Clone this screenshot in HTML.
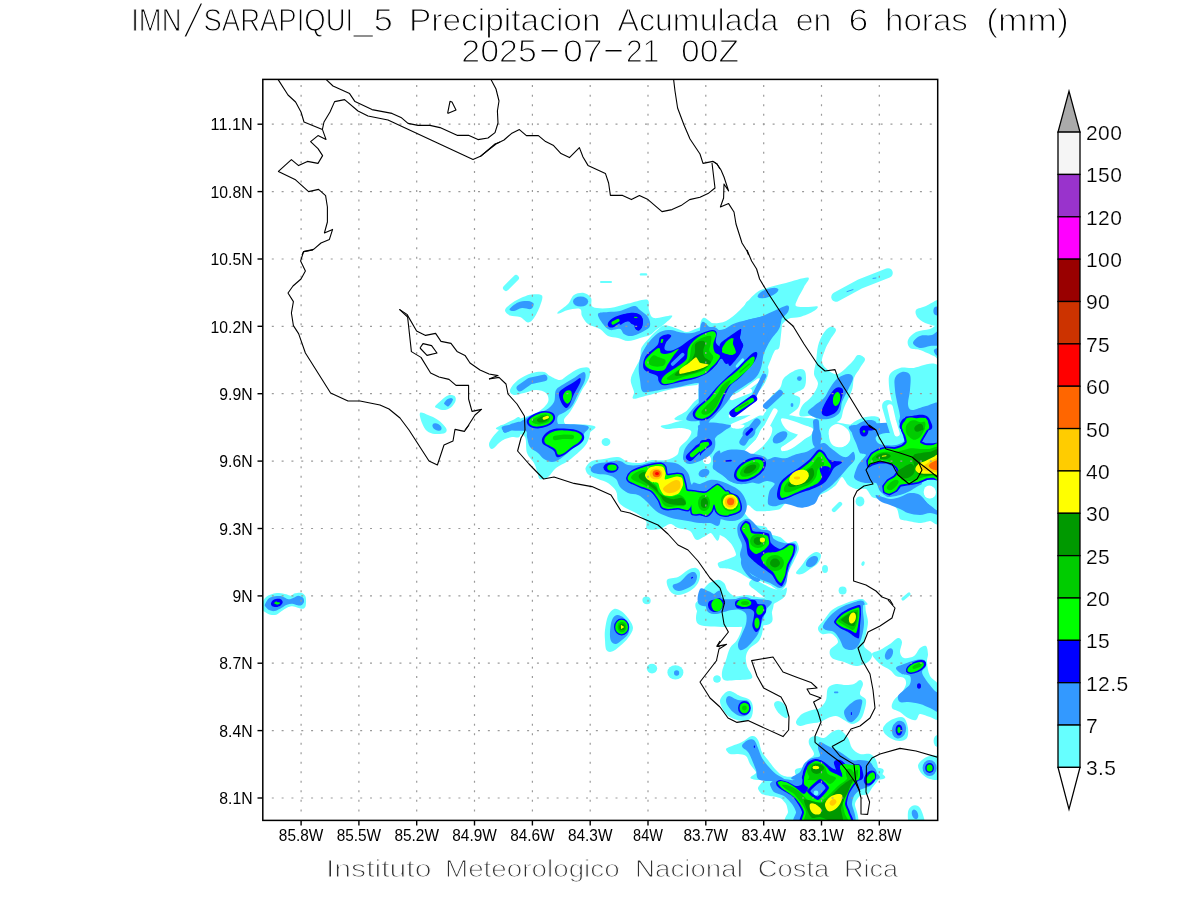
<!DOCTYPE html>
<html lang="es"><head><meta charset="utf-8"><title>IMN/SARAPIQUI_5 Precipitacion Acumulada en 6 horas (mm)</title>
<style>html,body{margin:0;padding:0;background:#fff}body{width:1200px;height:900px;overflow:hidden}svg{display:block}text{font-family:"Liberation Sans",sans-serif;fill:#000}svg{will-change:transform}.th1{stroke:#fff;stroke-width:1.1px}.th2{stroke:#fff;stroke-width:.2px}.th3{stroke:#fff;stroke-width:.95px}.t1{font-size:31px}.t0{font-size:32px}.t0.sl{font-size:50px;stroke-width:2.9px}.ax{font-size:16.5px}.cb{font-size:21px;letter-spacing:.4px}.ft{font-size:24.4px;fill:#303030}</style></head><body>
<svg width="1200" height="900" viewBox="0 0 1200 900">
<rect width="1200" height="900" fill="#fff"/>
<defs><clipPath id="fr"><rect x="262.8" y="79.4" width="674.9" height="741.0"/></clipPath><clipPath id="c119"><rect x="700" y="427" width="245" height="183"/></clipPath></defs>
<g clip-path="url(#fr)">
<path d="M633.3,398.7C631.0,398.1 634.4,395.1 634.0,392.0C633.6,388.9 630.6,383.8 630.7,380.0C630.8,376.2 633.1,372.9 634.7,369.3C636.2,365.8 638.9,362.2 640.0,358.7C641.1,355.1 639.9,351.3 641.3,348.0C642.8,344.7 645.8,341.9 648.7,338.7C651.6,335.4 655.9,330.9 658.7,328.7C661.4,326.4 662.2,325.3 665.3,325.3C668.4,325.3 673.8,327.6 677.3,328.7C680.9,329.8 683.8,331.9 686.7,332.0C689.6,332.1 691.3,330.6 694.7,329.3C698.0,328.1 703.6,325.7 706.7,324.7C709.8,323.7 710.9,323.2 713.3,323.3C715.8,323.4 718.7,325.6 721.3,325.3C724.0,325.1 726.7,324.0 729.3,322.0C732.0,320.0 734.9,315.9 737.3,313.3C739.8,310.8 741.8,308.9 744.0,306.7C746.2,304.4 744.7,301.1 750.7,300.0C756.7,298.9 775.1,292.7 780.0,300.0C784.9,307.3 780.9,335.6 780.0,344.0C779.1,352.4 776.2,348.0 774.7,350.7C773.1,353.3 771.8,357.3 770.7,360.0C769.6,362.7 768.9,364.2 768.0,366.7C767.1,369.1 766.4,372.0 765.3,374.7C764.2,377.3 763.3,380.0 761.3,382.7C759.3,385.3 756.9,387.6 753.3,390.7C749.8,393.8 744.0,397.6 740.0,401.3C736.0,405.1 732.0,410.2 729.3,413.3C726.7,416.4 732.9,418.9 724.0,420.0C715.1,421.1 682.2,421.6 676.0,420.0C669.8,418.4 683.6,413.8 686.7,410.7C689.8,407.6 691.6,404.2 694.7,401.3C697.8,398.4 703.0,396.0 705.3,393.3C707.7,390.7 710.4,386.7 708.7,385.3C706.9,384.0 700.6,384.8 694.7,385.3C688.8,385.9 681.1,387.0 673.3,388.7C665.6,390.3 654.7,393.7 648.0,395.3C641.3,397.0 635.7,399.2 633.3,398.7Z" fill="#66ffff"/>
<path d="M506.0,288.0L516.0,278.0" fill="none" stroke="#66ffff" stroke-width="6.0" stroke-linecap="round" stroke-linejoin="round"/>
<path d="M505.0,310.0C505.3,307.9 509.0,305.2 512.0,303.0C515.0,300.8 519.7,298.4 523.0,297.0C526.3,295.6 528.8,294.6 532.0,294.4C535.2,294.2 540.7,293.7 542.0,295.6C543.3,297.5 541.3,302.3 540.0,306.0C538.7,309.7 536.0,315.3 534.0,318.0C532.0,320.7 530.3,322.6 528.0,322.4C525.7,322.2 523.0,318.1 520.0,317.0C517.0,315.9 512.5,316.8 510.0,315.6C507.5,314.4 504.7,312.1 505.0,310.0Z" fill="#66ffff"/>
<path d="M601.0,282.0L611.0,282.0" fill="none" stroke="#66ffff" stroke-width="2.0" stroke-linecap="round" stroke-linejoin="round"/>
<path d="M641.0,274.4L646.0,274.4" fill="none" stroke="#66ffff" stroke-width="2.4" stroke-linecap="round" stroke-linejoin="round"/>
<path d="M558.0,312.0C559.5,310.4 565.3,306.8 568.0,304.0C570.7,301.2 571.3,296.8 574.0,295.0C576.7,293.2 581.2,292.5 584.0,293.0C586.8,293.5 589.5,295.7 591.0,298.0C592.5,300.3 589.8,305.3 593.0,307.0C596.2,308.7 604.2,308.6 610.0,308.0C615.8,307.4 621.8,305.0 628.0,303.6C634.2,302.2 643.5,298.5 647.0,299.6C650.5,300.7 647.8,306.9 649.0,310.0C650.2,313.1 650.2,317.1 654.0,318.0C657.8,318.9 670.2,314.7 672.0,315.6C673.8,316.5 667.7,321.2 665.0,323.6C662.3,326.0 658.5,328.1 656.0,330.0C653.5,331.9 652.7,333.7 650.0,335.0C647.3,336.3 643.7,337.0 640.0,338.0C636.3,339.0 631.7,341.0 628.0,341.0C624.3,341.0 621.3,338.8 618.0,338.0C614.7,337.2 611.0,337.5 608.0,336.0C605.0,334.5 603.3,331.0 600.0,329.0C596.7,327.0 591.0,326.2 588.0,324.0C585.0,321.8 583.3,318.5 582.0,316.0C580.7,313.5 582.3,310.0 580.0,309.0C577.7,308.0 571.5,309.2 568.0,310.0C564.5,310.8 560.7,313.3 559.0,313.6C557.3,313.9 556.5,313.6 558.0,312.0Z" fill="#66ffff"/>
<path d="M510.0,390.0C510.7,387.5 514.3,382.8 518.0,380.0C521.7,377.2 527.7,374.3 532.0,373.0C536.3,371.7 541.0,371.5 544.0,372.0C547.0,372.5 547.3,374.7 550.0,376.0C552.7,377.3 557.0,380.2 560.0,380.0C563.0,379.8 565.0,376.8 568.0,375.0C571.0,373.2 574.5,370.2 578.0,369.0C581.5,367.8 587.2,366.5 589.0,368.0C590.8,369.5 590.2,374.3 589.0,378.0C587.8,381.7 584.2,386.0 582.0,390.0C579.8,394.0 578.0,398.3 576.0,402.0C574.0,405.7 572.0,409.0 570.0,412.0C568.0,415.0 564.3,417.7 564.0,420.0C563.7,422.3 564.7,424.3 568.0,426.0C571.3,427.7 595.3,429.3 584.0,430.0C572.7,430.7 512.3,431.3 500.0,430.0C487.7,428.7 506.3,424.0 510.0,422.0C513.7,420.0 517.3,419.7 522.0,418.0C526.7,416.3 533.7,414.7 538.0,412.0C542.3,409.3 546.7,405.2 548.0,402.0C549.3,398.8 548.0,395.0 546.0,393.0C544.0,391.0 539.7,390.0 536.0,390.0C532.3,390.0 527.7,392.2 524.0,393.0C520.3,393.8 516.3,395.5 514.0,395.0C511.7,394.5 509.3,392.5 510.0,390.0Z" fill="#66ffff"/>
<path d="M700.0,326.0C702.3,308.3 709.7,324.4 714.0,323.6C718.3,322.8 721.7,323.3 726.0,321.0C730.3,318.7 735.0,314.7 740.0,310.0C745.0,305.3 751.0,296.8 756.0,293.0C761.0,289.2 765.0,288.7 770.0,287.0C775.0,285.3 779.7,284.6 786.0,283.0C792.3,281.4 805.0,276.9 808.0,277.6C811.0,278.3 805.7,283.4 804.0,287.0C802.3,290.6 798.9,295.8 797.6,299.0C796.3,302.2 794.6,304.7 796.0,306.0C797.4,307.3 802.4,306.9 806.0,307.0C809.6,307.1 816.4,305.6 817.6,306.4C818.8,307.2 815.9,309.8 813.0,311.6C810.1,313.4 804.2,315.8 800.0,317.0C795.8,318.2 791.5,317.2 788.0,319.0C784.5,320.8 782.0,324.8 779.0,328.0C776.0,331.2 772.3,334.0 770.0,338.0C767.7,342.0 766.7,348.0 765.0,352.0C763.3,356.0 759.5,359.3 760.0,362.0C760.5,364.7 766.8,365.3 768.0,368.0C769.2,370.7 768.3,374.3 767.0,378.0C765.7,381.7 762.8,387.0 760.0,390.0C757.2,393.0 753.3,393.3 750.0,396.0C746.7,398.7 744.3,402.3 740.0,406.0C735.7,409.7 728.7,414.7 724.0,418.0C719.3,421.3 716.0,424.0 712.0,426.0C708.0,428.0 702.0,446.7 700.0,430.0C698.0,413.3 697.7,343.7 700.0,326.0Z" fill="#66ffff"/>
<path d="M836.0,297.0L860.0,284.0L888.0,273.0" fill="none" stroke="#66ffff" stroke-width="9.6" stroke-linecap="round" stroke-linejoin="round"/>
<path d="M916.0,310.0C917.3,308.0 922.5,307.7 926.0,306.0C929.5,304.3 934.7,301.0 937.0,300.0C939.3,299.0 939.5,296.0 940.0,300.0C940.5,304.0 942.0,320.0 940.0,324.0C938.0,328.0 931.7,325.0 928.0,324.0C924.3,323.0 920.0,320.3 918.0,318.0C916.0,315.7 914.7,312.0 916.0,310.0Z" fill="#66ffff"/>
<path d="M908.0,340.0C909.0,337.3 912.3,333.8 916.0,332.0C919.7,330.2 926.0,330.0 930.0,329.0C934.0,328.0 938.3,321.2 940.0,326.0C941.7,330.8 941.0,353.0 940.0,358.0C939.0,363.0 937.3,357.3 934.0,356.0C930.7,354.7 924.0,351.3 920.0,350.0C916.0,348.7 912.0,349.7 910.0,348.0C908.0,346.3 907.0,342.7 908.0,340.0Z" fill="#66ffff"/>
<path d="M830.0,327.0C832.2,326.3 836.0,327.8 836.0,330.0C836.0,332.2 831.8,336.7 830.0,340.0C828.2,343.3 826.3,346.3 825.0,350.0C823.7,353.7 821.5,358.7 822.0,362.0C822.5,365.3 825.3,368.0 828.0,370.0C830.7,372.0 834.0,375.3 838.0,374.0C842.0,372.7 848.7,365.2 852.0,362.0C855.3,358.8 855.8,355.5 858.0,355.0C860.2,354.5 864.7,356.8 865.0,359.0C865.3,361.2 861.8,364.8 860.0,368.0C858.2,371.2 855.3,374.3 854.0,378.0C852.7,381.7 853.7,385.0 852.0,390.0C850.3,395.0 846.0,403.0 844.0,408.0C842.0,413.0 842.7,417.3 840.0,420.0C837.3,422.7 831.3,423.7 828.0,424.0C824.7,424.3 822.7,423.3 820.0,422.0C817.3,420.7 815.3,417.0 812.0,416.0C808.7,415.0 801.7,417.7 800.0,416.0C798.3,414.3 800.0,409.3 802.0,406.0C804.0,402.7 809.3,399.7 812.0,396.0C814.7,392.3 817.7,387.7 818.0,384.0C818.3,380.3 814.3,377.7 814.0,374.0C813.7,370.3 815.3,366.7 816.0,362.0C816.7,357.3 816.8,350.7 818.0,346.0C819.2,341.3 821.0,337.2 823.0,334.0C825.0,330.8 827.8,327.7 830.0,327.0Z" fill="#66ffff"/>
<path d="M784.0,378.0C786.7,375.0 792.7,371.3 796.0,370.0C799.3,368.7 802.3,368.7 804.0,370.0C805.7,371.3 806.0,375.0 806.0,378.0C806.0,381.0 806.0,385.3 804.0,388.0C802.0,390.7 794.7,392.3 794.0,394.0C793.3,395.7 799.3,395.7 800.0,398.0C800.7,400.3 800.0,405.0 798.0,408.0C796.0,411.0 791.0,413.0 788.0,416.0C785.0,419.0 783.3,423.7 780.0,426.0C776.7,428.3 771.3,430.3 768.0,430.0C764.7,429.7 760.3,427.3 760.0,424.0C759.7,420.7 764.3,414.3 766.0,410.0C767.7,405.7 767.7,401.7 770.0,398.0C772.3,394.3 777.7,391.3 780.0,388.0C782.3,384.7 781.3,381.0 784.0,378.0Z" fill="#66ffff"/>
<path d="M732.0,430.0C723.7,428.7 740.0,423.7 744.0,422.0C748.0,420.3 752.3,419.7 756.0,420.0C759.7,420.3 762.0,423.0 766.0,424.0C770.0,425.0 775.3,425.0 780.0,426.0C784.7,427.0 802.0,429.3 794.0,430.0C786.0,430.7 740.3,431.3 732.0,430.0Z" fill="#66ffff"/>
<path d="M804.0,430.0C800.7,428.7 805.3,423.7 808.0,422.0C810.7,420.3 816.7,419.3 820.0,420.0C823.3,420.7 826.7,424.3 828.0,426.0C829.3,427.7 832.0,429.3 828.0,430.0C824.0,430.7 807.3,431.3 804.0,430.0Z" fill="#66ffff"/>
<path d="M890.0,374.0C891.8,371.0 896.3,369.0 900.0,368.0C903.7,367.0 905.3,368.0 912.0,368.0C918.7,368.0 935.3,357.7 940.0,368.0C944.7,378.3 948.0,419.7 940.0,430.0C932.0,440.3 899.3,432.0 892.0,430.0C884.7,428.0 896.0,422.7 896.0,418.0C896.0,413.3 893.2,407.3 892.0,402.0C890.8,396.7 889.3,390.7 889.0,386.0C888.7,381.3 888.2,377.0 890.0,374.0Z" fill="#66ffff"/>
<path d="M848.0,430.0C844.3,428.7 851.0,424.2 854.0,422.0C857.0,419.8 862.0,417.8 866.0,417.0C870.0,416.2 875.7,415.8 878.0,417.0C880.3,418.2 880.3,421.8 880.0,424.0C879.7,426.2 881.3,429.0 876.0,430.0C870.7,431.0 851.7,431.3 848.0,430.0Z" fill="#66ffff"/>
<path d="M420.0,413.0C421.0,411.7 425.0,413.8 428.0,415.0C431.0,416.2 435.0,417.8 438.0,420.0C441.0,422.2 444.8,425.8 446.0,428.0C447.2,430.2 446.8,432.0 445.0,433.0C443.2,434.0 438.0,434.3 435.0,434.0C432.0,433.7 429.2,432.8 427.0,431.0C424.8,429.2 423.2,426.0 422.0,423.0C420.8,420.0 419.0,414.3 420.0,413.0Z" fill="#66ffff"/>
<path d="M500.0,437.0C499.2,436.0 502.2,432.7 503.0,431.0C503.8,429.3 504.3,428.0 505.0,427.0C505.7,426.0 493.0,425.3 507.0,425.0C521.0,424.7 575.2,423.7 589.0,425.0C602.8,426.3 590.3,430.0 590.0,433.0C589.7,436.0 588.7,440.0 587.0,443.0C585.3,446.0 583.2,448.0 580.0,451.0C576.8,454.0 572.0,458.2 568.0,461.0C564.0,463.8 559.3,465.3 556.0,468.0C552.7,470.7 550.7,475.2 548.0,477.0C545.3,478.8 541.8,480.0 540.0,479.0C538.2,478.0 538.0,473.7 537.0,471.0C536.0,468.3 535.7,466.0 534.0,463.0C532.3,460.0 528.5,457.3 527.0,453.0C525.5,448.7 526.8,440.2 525.0,437.0C523.2,433.8 518.8,434.0 516.0,434.0C513.2,434.0 510.7,436.5 508.0,437.0C505.3,437.5 500.8,438.0 500.0,437.0Z" fill="#66ffff"/>
<ellipse cx="606.0" cy="442.0" rx="4.4" ry="4.0" transform="rotate(0 606.0 442.0)" fill="#66ffff"/>
<path d="M586.0,467.0C587.0,465.3 589.0,462.3 592.0,461.0C595.0,459.7 599.7,459.7 604.0,459.0C608.3,458.3 614.0,456.5 618.0,457.0C622.0,457.5 624.3,461.0 628.0,462.0C631.7,463.0 636.0,463.3 640.0,463.0C644.0,462.7 647.7,460.5 652.0,460.0C656.3,459.5 661.8,460.8 666.0,460.0C670.2,459.2 674.7,457.2 677.0,455.0C679.3,452.8 678.2,449.7 680.0,447.0C681.8,444.3 686.2,441.7 688.0,439.0C689.8,436.3 692.3,432.8 691.0,431.0C689.7,429.2 684.2,428.3 680.0,428.0C675.8,427.7 668.5,429.5 666.0,429.0C663.5,428.5 656.0,425.7 665.0,425.0C674.0,424.3 710.8,407.0 720.0,425.0C729.2,443.0 721.7,515.0 720.0,533.0C718.3,551.0 713.8,531.8 710.0,533.0C706.2,534.2 700.3,540.3 697.0,540.0C693.7,539.7 693.2,533.0 690.0,531.0C686.8,529.0 681.3,529.2 678.0,528.0C674.7,526.8 673.0,523.8 670.0,524.0C667.0,524.2 663.8,528.2 660.0,529.0C656.2,529.8 649.3,530.3 647.0,529.0C644.7,527.7 647.8,523.7 646.0,521.0C644.2,518.3 639.7,515.3 636.0,513.0C632.3,510.7 627.0,509.0 624.0,507.0C621.0,505.0 619.3,503.7 618.0,501.0C616.7,498.3 617.7,494.0 616.0,491.0C614.3,488.0 611.0,485.0 608.0,483.0C605.0,481.0 601.2,480.3 598.0,479.0C594.8,477.7 591.0,476.3 589.0,475.0C587.0,473.7 586.5,472.3 586.0,471.0C585.5,469.7 585.0,468.7 586.0,467.0Z" fill="#66ffff"/>
<path d="M667.0,580.0C668.3,577.7 674.5,578.7 678.0,577.0C681.5,575.3 685.0,571.5 688.0,570.0C691.0,568.5 694.0,567.5 696.0,568.0C698.0,568.5 699.7,570.5 700.0,573.0C700.3,575.5 699.7,580.0 698.0,583.0C696.3,586.0 693.3,589.0 690.0,591.0C686.7,593.0 681.3,595.0 678.0,595.0C674.7,595.0 671.8,593.5 670.0,591.0C668.2,588.5 665.7,582.3 667.0,580.0Z" fill="#66ffff"/>
<ellipse cx="646.4" cy="600.0" rx="4.0" ry="3.6" transform="rotate(0 646.4 600.0)" fill="#66ffff"/>
<path d="M700.0,605.0C697.0,603.7 700.3,599.7 702.0,597.0C703.7,594.3 707.0,591.3 710.0,589.0C713.0,586.7 718.3,580.3 720.0,583.0C721.7,585.7 723.3,601.3 720.0,605.0C716.7,608.7 703.0,606.3 700.0,605.0Z" fill="#66ffff"/>
<path d="M700.0,425.0C728.0,412.6 912.0,414.0 940.0,425.0C968.0,436.0 941.2,507.8 940.0,519.0C938.8,530.2 932.3,520.5 930.0,521.0C927.7,521.5 922.6,523.0 920.0,523.0C917.4,523.0 910.3,521.5 908.0,521.0C905.7,520.5 901.3,520.4 900.0,519.0C898.7,517.6 898.4,511.1 897.0,509.0C895.6,506.9 890.0,502.2 888.0,501.0C886.0,499.8 881.9,499.5 880.0,499.0C878.1,498.5 873.6,498.2 872.0,497.0C870.4,495.8 867.9,489.9 866.0,489.0C864.1,488.1 858.1,489.5 856.0,489.0C853.9,488.5 849.6,486.4 848.0,485.0C846.4,483.6 843.4,477.0 842.0,477.0C840.6,477.0 837.6,483.4 836.0,485.0C834.4,486.6 829.9,489.8 828.0,491.0C826.1,492.2 821.9,493.6 820.0,495.0C818.1,496.4 814.3,501.8 812.0,503.0C809.7,504.2 802.8,505.2 800.0,505.0C797.2,504.8 790.3,500.5 788.0,501.0C785.7,501.5 782.3,507.8 780.0,509.0C777.7,510.2 770.8,510.8 768.0,511.0C765.2,511.2 758.3,511.7 756.0,511.0C753.7,510.3 749.3,504.8 748.0,505.0C746.7,505.2 744.8,511.4 745.0,513.0C745.2,514.6 748.7,517.6 750.0,519.0C751.3,520.4 754.1,524.1 756.0,525.0C757.9,525.9 764.4,526.0 766.0,527.0C767.6,528.0 768.4,532.8 770.0,534.0C771.6,535.2 777.9,536.0 780.0,537.0C782.1,538.0 786.1,542.5 788.0,543.0C789.9,543.5 794.7,540.3 796.0,541.0C797.3,541.7 799.2,546.7 799.0,549.0C798.8,551.3 795.3,558.2 794.0,561.0C792.7,563.8 788.9,570.2 788.0,573.0C787.1,575.8 786.9,582.9 786.0,585.0C785.1,587.1 781.9,591.0 780.0,591.0C778.1,591.0 772.3,586.2 770.0,585.0C767.7,583.8 762.3,581.7 760.0,581.0C757.7,580.3 752.3,579.9 750.0,579.0C747.7,578.1 742.3,574.2 740.0,573.0C737.7,571.8 732.3,569.6 730.0,569.0C727.7,568.4 721.4,568.7 720.0,568.0C718.6,567.3 717.1,564.0 718.0,563.0C718.9,562.0 725.9,559.9 728.0,559.0C730.1,558.1 735.5,556.6 736.0,555.0C736.5,553.4 733.4,547.1 732.0,545.0C730.6,542.9 726.3,538.5 724.0,537.0C721.7,535.5 714.8,532.7 712.0,532.0C709.2,531.3 701.4,543.5 700.0,531.0C698.6,518.5 672.0,437.4 700.0,425.0Z" fill="#66ffff" clip-path="url(#c119)"/>
<ellipse cx="860.0" cy="501.4" rx="4.4" ry="5.0" transform="rotate(0 860.0 501.4)" fill="#66ffff"/>
<path d="M834.0,510.0L840.0,504.0" fill="none" stroke="#66ffff" stroke-width="4.4" stroke-linecap="round" stroke-linejoin="round"/>
<path d="M796.0,573.0C796.0,571.5 800.0,567.7 802.0,565.0C804.0,562.3 805.7,559.2 808.0,557.0C810.3,554.8 813.8,552.3 816.0,552.0C818.2,551.7 820.7,553.2 821.0,555.0C821.3,556.8 819.8,560.7 818.0,563.0C816.2,565.3 812.7,567.2 810.0,569.0C807.3,570.8 804.3,573.3 802.0,574.0C799.7,574.7 796.0,574.5 796.0,573.0Z" fill="#66ffff"/>
<ellipse cx="825.0" cy="569.0" rx="3.0" ry="4.0" transform="rotate(0 825.0 569.0)" fill="#66ffff"/>
<ellipse cx="842.6" cy="590.4" rx="4.0" ry="4.0" transform="rotate(0 842.6 590.4)" fill="#66ffff"/>
<ellipse cx="863.0" cy="563.6" rx="1.6" ry="2.4" transform="rotate(20 863.0 563.6)" fill="#66ffff"/>
<path d="M903.0,599.0L909.0,594.0" fill="none" stroke="#66ffff" stroke-width="3.2" stroke-linecap="round" stroke-linejoin="round"/>
<path d="M846.0,605.0C844.0,604.3 851.3,601.9 854.0,601.0C856.7,600.1 860.0,599.2 862.0,599.4C864.0,599.6 865.3,601.1 866.0,602.0C866.7,602.9 869.3,604.5 866.0,605.0C862.7,605.5 848.0,605.7 846.0,605.0Z" fill="#66ffff"/>
<path d="M605.0,630.0C605.5,626.0 606.5,619.5 608.0,616.0C609.5,612.5 611.8,609.8 614.0,609.0C616.2,608.2 618.7,609.5 621.0,611.0C623.3,612.5 626.0,615.2 628.0,618.0C630.0,620.8 633.0,624.7 633.0,628.0C633.0,631.3 630.2,635.0 628.0,638.0C625.8,641.0 622.7,643.7 620.0,646.0C617.3,648.3 614.3,650.9 612.0,651.6C609.7,652.3 607.6,651.9 606.4,650.0C605.2,648.1 605.2,643.3 605.0,640.0C604.8,636.7 604.5,634.0 605.0,630.0Z" fill="#66ffff"/>
<ellipse cx="647.0" cy="601.0" rx="3.6" ry="3.2" transform="rotate(0 647.0 601.0)" fill="#66ffff"/>
<ellipse cx="652.0" cy="668.6" rx="5.2" ry="4.8" transform="rotate(0 652.0 668.6)" fill="#66ffff"/>
<ellipse cx="675.4" cy="672.4" rx="8.0" ry="7.2" transform="rotate(0 675.4 672.4)" fill="#66ffff"/>
<ellipse cx="717.0" cy="679.0" rx="3.6" ry="3.6" transform="rotate(0 717.0 679.0)" fill="#66ffff"/>
<path d="M700.0,600.0C711.3,596.7 758.7,598.3 770.0,600.0C781.3,601.7 769.0,606.3 768.0,610.0C767.0,613.7 765.0,618.0 764.0,622.0C763.0,626.0 763.0,630.7 762.0,634.0C761.0,637.3 760.0,639.7 758.0,642.0C756.0,644.3 752.0,645.7 750.0,648.0C748.0,650.3 746.5,653.0 746.0,656.0C745.5,659.0 746.0,662.3 747.0,666.0C748.0,669.7 753.8,675.7 752.0,678.0C750.2,680.3 740.7,679.7 736.0,680.0C731.3,680.3 726.3,681.3 724.0,680.0C721.7,678.7 721.7,675.3 722.0,672.0C722.3,668.7 724.7,664.0 726.0,660.0C727.3,656.0 728.2,651.3 730.0,648.0C731.8,644.7 735.0,643.3 737.0,640.0C739.0,636.7 741.5,631.3 742.0,628.0C742.5,624.7 742.0,621.7 740.0,620.0C738.0,618.3 733.3,618.0 730.0,618.0C726.7,618.0 723.0,619.3 720.0,620.0C717.0,620.7 714.3,621.0 712.0,622.0C709.7,623.0 707.7,626.3 706.0,626.0C704.3,625.7 703.0,624.3 702.0,620.0C701.0,615.7 688.7,603.3 700.0,600.0Z" fill="#66ffff"/>
<ellipse cx="717.0" cy="679.0" rx="3.6" ry="3.6" transform="rotate(0 717.0 679.0)" fill="#66ffff"/>
<path d="M720.0,702.0C719.7,698.7 722.3,695.8 724.0,694.0C725.7,692.2 727.3,690.7 730.0,691.0C732.7,691.3 736.7,694.5 740.0,696.0C743.3,697.5 747.8,698.0 750.0,700.0C752.2,702.0 752.8,705.0 753.0,708.0C753.2,711.0 752.5,715.8 751.0,718.0C749.5,720.2 746.8,720.8 744.0,721.0C741.2,721.2 737.0,720.2 734.0,719.0C731.0,717.8 728.3,716.8 726.0,714.0C723.7,711.2 720.3,705.3 720.0,702.0Z" fill="#66ffff"/>
<path d="M774.0,704.0C774.2,702.3 776.3,701.0 778.0,701.0C779.7,701.0 782.3,702.2 784.0,704.0C785.7,705.8 787.5,709.7 788.0,712.0C788.5,714.3 788.0,717.3 787.0,718.0C786.0,718.7 783.7,717.2 782.0,716.0C780.3,714.8 778.3,713.0 777.0,711.0C775.7,709.0 773.8,705.7 774.0,704.0Z" fill="#66ffff"/>
<path d="M818.0,628.0C818.3,625.7 821.7,623.0 824.0,620.0C826.3,617.0 828.7,612.7 832.0,610.0C835.3,607.3 840.0,605.7 844.0,604.0C848.0,602.3 852.7,600.7 856.0,600.0C859.3,599.3 862.3,598.0 864.0,600.0C865.7,602.0 865.3,608.3 866.0,612.0C866.7,615.7 868.0,618.3 868.0,622.0C868.0,625.7 866.7,630.0 866.0,634.0C865.3,638.0 863.0,642.7 864.0,646.0C865.0,649.3 871.3,651.3 872.0,654.0C872.7,656.7 870.7,660.0 868.0,662.0C865.3,664.0 860.0,666.0 856.0,666.0C852.0,666.0 848.0,663.3 844.0,662.0C840.0,660.7 834.3,660.0 832.0,658.0C829.7,656.0 829.0,652.7 830.0,650.0C831.0,647.3 837.7,644.7 838.0,642.0C838.3,639.3 834.7,635.3 832.0,634.0C829.3,632.7 824.3,635.0 822.0,634.0C819.7,633.0 817.7,630.3 818.0,628.0Z" fill="#66ffff"/>
<path d="M872.0,654.0C872.0,651.7 877.0,651.7 880.0,650.0C883.0,648.3 887.0,646.0 890.0,644.0C893.0,642.0 896.0,638.3 898.0,638.0C900.0,637.7 901.7,639.7 902.0,642.0C902.3,644.3 899.7,649.3 900.0,652.0C900.3,654.7 901.7,657.3 904.0,658.0C906.3,658.7 911.3,657.7 914.0,656.0C916.7,654.3 918.0,649.7 920.0,648.0C922.0,646.3 924.7,645.0 926.0,646.0C927.3,647.0 927.8,651.3 928.0,654.0C928.2,656.7 926.7,658.3 927.0,662.0C927.3,665.7 927.8,671.7 930.0,676.0C932.2,680.3 938.3,681.0 940.0,688.0C941.7,695.0 941.7,713.2 940.0,718.0C938.3,722.8 933.3,717.7 930.0,717.0C926.7,716.3 922.3,713.5 920.0,714.0C917.7,714.5 918.0,719.3 916.0,720.0C914.0,720.7 910.7,719.3 908.0,718.0C905.3,716.7 902.7,713.7 900.0,712.0C897.3,710.3 893.0,710.0 892.0,708.0C891.0,706.0 892.3,702.7 894.0,700.0C895.7,697.3 900.0,694.7 902.0,692.0C904.0,689.3 905.7,686.3 906.0,684.0C906.3,681.7 905.7,679.3 904.0,678.0C902.3,676.7 898.3,677.3 896.0,676.0C893.7,674.7 892.7,672.0 890.0,670.0C887.3,668.0 883.0,666.7 880.0,664.0C877.0,661.3 872.0,656.3 872.0,654.0Z" fill="#66ffff"/>
<path d="M883.0,728.0C883.5,726.0 885.8,723.7 888.0,722.0C890.2,720.3 893.3,718.7 896.0,718.0C898.7,717.3 902.0,716.3 904.0,718.0C906.0,719.7 907.5,724.7 908.0,728.0C908.5,731.3 908.3,735.8 907.0,738.0C905.7,740.2 902.5,740.8 900.0,741.0C897.5,741.2 894.5,740.2 892.0,739.0C889.5,737.8 886.5,735.8 885.0,734.0C883.5,732.2 882.5,730.0 883.0,728.0Z" fill="#66ffff"/>
<path d="M796.0,722.0C796.3,720.0 799.3,716.0 802.0,714.0C804.7,712.0 809.0,711.0 812.0,710.0C815.0,709.0 817.7,709.7 820.0,708.0C822.3,706.3 824.7,703.3 826.0,700.0C827.3,696.7 826.3,690.7 828.0,688.0C829.7,685.3 833.0,684.5 836.0,684.0C839.0,683.5 843.0,685.0 846.0,685.0C849.0,685.0 851.7,684.8 854.0,684.0C856.3,683.2 858.5,680.0 860.0,680.0C861.5,680.0 863.0,681.7 863.0,684.0C863.0,686.3 859.5,691.3 860.0,694.0C860.5,696.7 865.3,697.0 866.0,700.0C866.7,703.0 865.0,708.7 864.0,712.0C863.0,715.3 862.0,718.0 860.0,720.0C858.0,722.0 854.7,724.0 852.0,724.0C849.3,724.0 846.7,721.3 844.0,720.0C841.3,718.7 838.7,716.3 836.0,716.0C833.3,715.7 830.7,717.0 828.0,718.0C825.3,719.0 823.3,721.0 820.0,722.0C816.7,723.0 811.3,723.3 808.0,724.0C804.7,724.7 802.0,726.3 800.0,726.0C798.0,725.7 795.7,724.0 796.0,722.0Z" fill="#66ffff"/>
<path d="M726.0,749.0C726.3,747.7 729.3,747.2 732.0,746.0C734.7,744.8 738.7,743.7 742.0,742.0C745.3,740.3 749.3,736.3 752.0,736.0C754.7,735.7 756.3,737.3 758.0,740.0C759.7,742.7 760.3,748.7 762.0,752.0C763.7,755.3 765.7,757.0 768.0,760.0C770.3,763.0 773.3,767.3 776.0,770.0C778.7,772.7 780.7,775.0 784.0,776.0C787.3,777.0 793.0,777.3 796.0,776.0C799.0,774.7 800.0,770.7 802.0,768.0C804.0,765.3 806.0,762.3 808.0,760.0C810.0,757.7 813.8,756.7 814.0,754.0C814.2,751.3 809.7,746.7 809.0,744.0C808.3,741.3 808.8,739.3 810.0,738.0C811.2,736.7 813.7,736.0 816.0,736.0C818.3,736.0 821.3,738.7 824.0,738.0C826.7,737.3 829.3,733.3 832.0,732.0C834.7,730.7 837.3,729.0 840.0,730.0C842.7,731.0 846.0,735.0 848.0,738.0C850.0,741.0 850.0,745.3 852.0,748.0C854.0,750.7 857.0,753.0 860.0,754.0C863.0,755.0 867.3,753.0 870.0,754.0C872.7,755.0 874.7,757.3 876.0,760.0C877.3,762.7 878.0,766.7 878.0,770.0C878.0,773.3 895.7,778.3 876.0,780.0C856.3,781.7 780.0,781.3 760.0,780.0C740.0,778.7 757.7,774.7 756.0,772.0C754.3,769.3 751.7,766.7 750.0,764.0C748.3,761.3 748.0,757.7 746.0,756.0C744.0,754.3 740.7,754.3 738.0,754.0C735.3,753.7 732.0,754.8 730.0,754.0C728.0,753.2 725.7,750.3 726.0,749.0Z" fill="#66ffff"/>
<path d="M918.0,766.0C918.0,763.7 920.0,761.7 922.0,760.0C924.0,758.3 927.0,756.3 930.0,756.0C933.0,755.7 938.3,754.3 940.0,758.0C941.7,761.7 941.7,774.5 940.0,778.0C938.3,781.5 933.0,779.7 930.0,779.0C927.0,778.3 924.0,776.2 922.0,774.0C920.0,771.8 918.0,768.3 918.0,766.0Z" fill="#66ffff"/>
<ellipse cx="937.6" cy="741.0" rx="4.0" ry="6.0" transform="rotate(0 937.6 741.0)" fill="#66ffff"/>
<path d="M758.0,788.0C758.2,786.4 762.6,781.6 764.0,780.0C765.4,778.4 768.4,774.7 770.0,774.0C771.6,773.3 776.1,773.5 778.0,774.0C779.9,774.5 783.9,777.6 786.0,778.0C788.1,778.4 794.4,778.2 796.0,777.0C797.6,775.8 790.2,769.0 800.0,768.0C809.8,767.0 870.9,766.6 880.0,768.0C889.1,769.4 878.9,777.7 878.0,780.0C877.1,782.3 873.2,786.4 872.0,788.0C870.8,789.6 869.4,793.1 868.0,794.0C866.6,794.9 861.5,794.8 860.0,796.0C858.5,797.2 855.6,800.7 855.0,804.0C854.4,807.3 862.8,821.7 855.0,824.0C847.2,826.3 795.8,825.4 788.0,824.0C780.2,822.6 788.2,814.3 788.0,812.0C787.8,809.7 786.9,805.6 786.0,804.0C785.1,802.4 781.9,798.9 780.0,798.0C778.1,797.1 772.1,796.5 770.0,796.0C767.9,795.5 763.4,794.9 762.0,794.0C760.6,793.1 757.8,789.6 758.0,788.0Z" fill="#66ffff"/>
<path d="M908.0,812.0C908.3,809.0 910.3,807.0 912.0,806.0C913.7,805.0 916.3,805.0 918.0,806.0C919.7,807.0 921.0,809.0 922.0,812.0C923.0,815.0 926.0,822.0 924.0,824.0C922.0,826.0 912.7,826.0 910.0,824.0C907.3,822.0 907.7,815.0 908.0,812.0Z" fill="#66ffff"/>
<path d="M263.0,601.7C263.7,599.4 265.4,597.6 267.0,596.3C268.6,595.1 270.3,594.6 272.3,594.0C274.3,593.4 276.7,592.9 279.0,593.0C281.3,593.1 284.3,593.9 286.3,594.3C288.3,594.8 289.6,595.8 291.0,595.7C292.4,595.5 293.2,593.8 295.0,593.3C296.8,592.9 299.9,592.4 301.7,593.0C303.4,593.6 305.0,594.9 305.7,597.0C306.3,599.1 306.1,603.7 305.7,605.7C305.2,607.6 304.3,608.3 303.0,608.7C301.7,609.0 299.4,608.1 297.7,607.7C295.9,607.3 294.1,606.3 292.3,606.3C290.6,606.3 288.8,606.9 287.0,607.7C285.2,608.4 283.4,609.8 281.7,611.0C279.9,612.2 278.2,614.1 276.3,614.7C274.4,615.3 272.2,615.1 270.3,614.7C268.4,614.2 266.2,612.8 265.0,612.0C263.8,611.2 263.3,611.4 263.0,609.7C262.7,607.9 262.3,603.9 263.0,601.7Z" fill="#66ffff"/>
<path d="M700.0,601.0C700.3,596.6 700.8,594.1 702.0,591.7C703.2,589.3 707.1,584.6 709.3,583.0C711.6,581.4 716.6,579.6 718.7,579.7C720.7,579.8 723.5,582.2 724.7,583.7C725.8,585.1 726.0,588.6 727.3,590.3C728.7,592.0 732.1,595.7 734.7,596.3C737.2,597.0 743.6,594.9 746.7,595.0C749.7,595.1 754.8,596.6 757.3,597.0C759.8,597.4 763.2,597.5 765.3,598.3C767.5,599.1 772.4,601.2 773.3,603.0C774.2,604.8 772.9,608.7 772.0,611.7C771.1,614.6 776.3,623.2 766.7,625.0C757.1,626.8 708.9,628.2 700.0,625.0C691.1,621.8 699.7,605.4 700.0,601.0Z" fill="#66ffff"/>
<path d="M752.0,579.7C753.8,579.2 756.9,581.0 760.0,582.3C763.1,583.7 767.1,586.3 770.7,587.7C774.2,589.0 778.7,590.3 781.3,590.3C784.0,590.3 786.0,586.8 786.7,587.7C787.3,588.6 786.7,593.4 785.3,595.7C784.0,597.9 780.9,599.7 778.7,601.0C776.4,602.3 774.2,604.1 772.0,603.7C769.8,603.2 767.8,600.3 765.3,598.3C762.9,596.3 760.0,593.9 757.3,591.7C754.7,589.4 750.2,587.0 749.3,585.0C748.4,583.0 750.2,580.1 752.0,579.7Z" fill="#66ffff"/>
<path d="M708.0,428.0C710.7,426.4 716.5,421.5 720.0,420.0C723.5,418.5 729.7,417.7 734.0,417.0C738.3,416.3 747.2,415.1 752.0,415.0C756.8,414.9 765.7,416.1 770.0,416.0C774.3,415.9 780.0,414.3 784.0,414.4C788.0,414.5 795.7,416.4 800.0,417.0C804.3,417.6 812.3,418.6 816.0,419.0C819.7,419.4 824.8,419.5 828.0,420.0C831.2,420.5 836.5,422.2 840.0,423.0C843.5,423.8 851.6,424.5 854.0,426.0C856.4,427.5 858.3,431.6 858.0,434.0C857.7,436.4 873.1,442.7 852.0,444.0C830.9,445.3 720.3,445.6 700.0,444.0C679.7,442.4 698.9,434.1 700.0,432.0C701.1,429.9 705.3,429.6 708.0,428.0Z" fill="#66ffff"/>
<path d="M435.0,406.5C435.3,405.3 438.2,403.2 440.0,401.5C441.8,399.8 444.2,397.6 446.0,396.5C447.8,395.4 449.5,395.0 451.0,395.0C452.5,395.0 454.2,395.5 455.0,396.5C455.8,397.5 456.0,399.3 455.5,401.0C455.0,402.7 453.4,405.1 452.0,406.5C450.6,407.9 448.7,408.9 447.0,409.5C445.3,410.1 443.5,410.2 442.0,410.0C440.5,409.8 439.2,409.1 438.0,408.5C436.8,407.9 434.7,407.7 435.0,406.5Z" fill="#66ffff"/>
<path d="M489.0,444.0C489.2,442.2 490.5,440.2 492.0,438.0C493.5,435.8 495.8,433.3 498.0,431.0C500.2,428.7 502.5,425.8 505.0,424.0C507.5,422.2 510.5,421.0 513.0,420.0C515.5,419.0 518.8,415.3 520.0,418.0C521.2,420.7 521.3,432.8 520.0,436.0C518.7,439.2 514.5,436.5 512.0,437.0C509.5,437.5 507.2,438.0 505.0,439.0C502.8,440.0 500.8,441.5 499.0,443.0C497.2,444.5 495.4,447.1 494.0,448.0C492.6,448.9 491.3,449.2 490.5,448.5C489.7,447.8 488.8,445.8 489.0,444.0Z" fill="#66ffff"/>
<path d="M731.3,398.0L740.0,393.3L748.0,388.0L758.7,380.0" fill="none" stroke="#ffffff" stroke-width="3.5" stroke-linecap="round" stroke-linejoin="round"/>
<path d="M700.0,386.0L708.0,383.0" fill="none" stroke="#ffffff" stroke-width="5.6" stroke-linecap="round" stroke-linejoin="round"/>
<path d="M732.0,398.0L750.0,391.0" fill="none" stroke="#ffffff" stroke-width="4.4" stroke-linecap="round" stroke-linejoin="round"/>
<ellipse cx="707.0" cy="460.0" rx="4.0" ry="4.0" transform="rotate(0 707.0 460.0)" fill="#ffffff"/>
<ellipse cx="707.0" cy="459.4" rx="3.6" ry="4.4" transform="rotate(0 707.0 459.4)" fill="#ffffff"/>
<path d="M731.3,425.0C733.1,424.4 742.3,424.4 744.0,425.0C745.7,425.6 743.1,427.8 741.3,428.3C739.6,428.9 735.0,428.9 733.3,428.3C731.7,427.8 729.6,425.6 731.3,425.0Z" fill="#ffffff"/>
<path d="M741.3,457.0C741.1,455.7 744.2,451.9 746.7,449.0C749.1,446.1 753.6,443.0 756.0,439.7C758.4,436.3 759.6,431.4 761.3,429.0C763.1,426.6 764.9,425.2 766.7,425.0C768.4,424.8 771.3,425.9 772.0,427.7C772.7,429.4 772.0,432.8 770.7,435.7C769.3,438.6 766.4,442.3 764.0,445.0C761.6,447.7 758.7,449.7 756.0,451.7C753.3,453.7 750.4,456.1 748.0,457.0C745.6,457.9 741.6,458.3 741.3,457.0Z" fill="#ffffff"/>
<path d="M781.3,447.7C781.8,446.4 784.2,445.4 786.7,443.7C789.1,441.9 793.6,439.4 796.0,437.0C798.4,434.6 799.6,430.8 801.3,429.0C803.1,427.2 805.1,426.3 806.7,426.3C808.2,426.3 810.7,427.2 810.7,429.0C810.7,430.8 808.7,434.6 806.7,437.0C804.7,439.4 801.3,441.7 798.7,443.7C796.0,445.7 793.1,447.8 790.7,449.0C788.2,450.2 785.6,451.2 784.0,451.0C782.4,450.8 780.9,448.9 781.3,447.7Z" fill="#ffffff"/>
<path d="M829.3,430.3C830.1,428.0 832.2,427.4 834.7,427.0C837.1,426.6 841.8,426.7 844.0,427.7C846.2,428.7 847.3,430.6 848.0,433.0C848.7,435.4 848.9,440.0 848.0,442.3C847.1,444.7 844.9,446.3 842.7,447.0C840.4,447.7 836.8,447.3 834.7,446.3C832.6,445.3 830.9,443.7 830.0,441.0C829.1,438.3 828.6,432.7 829.3,430.3Z" fill="#ffffff"/>
<path d="M733.0,425.6L746.0,420.0L764.0,410.4" fill="none" stroke="#ffffff" stroke-width="4.4" stroke-linecap="round" stroke-linejoin="round"/>
<path d="M745.0,454.0L758.0,441.0L767.0,426.0L775.0,411.0" fill="none" stroke="#ffffff" stroke-width="5.2" stroke-linecap="round" stroke-linejoin="round"/>
<path d="M781.0,419.0C781.7,417.5 786.2,419.0 790.0,420.0C793.8,421.0 800.2,423.5 804.0,425.0C807.8,426.5 812.2,427.2 813.0,429.0C813.8,430.8 811.8,435.2 809.0,436.0C806.2,436.8 799.8,435.2 796.0,434.0C792.2,432.8 788.5,431.5 786.0,429.0C783.5,426.5 780.3,420.5 781.0,419.0Z" fill="#ffffff"/>
<path d="M783.0,449.0L796.0,441.0L809.0,434.0" fill="none" stroke="#ffffff" stroke-width="4.4" stroke-linecap="round" stroke-linejoin="round"/>
<path d="M830.0,428.0C831.5,426.0 835.0,423.7 838.0,424.0C841.0,424.3 846.0,427.3 848.0,430.0C850.0,432.7 850.7,437.3 850.0,440.0C849.3,442.7 846.7,445.3 844.0,446.0C841.3,446.7 836.5,445.7 834.0,444.0C831.5,442.3 829.7,438.7 829.0,436.0C828.3,433.3 828.5,430.0 830.0,428.0Z" fill="#ffffff"/>
<path d="M638.7,369.3C638.7,365.8 639.2,361.8 640.0,358.7C640.8,355.6 641.6,353.8 643.3,350.7C645.1,347.6 647.9,343.1 650.7,340.0C653.4,336.9 656.7,333.7 660.0,332.0C663.3,330.3 667.6,330.0 670.7,330.0C673.8,330.0 675.6,331.4 678.7,332.0C681.8,332.6 685.8,333.6 689.3,333.3C692.9,333.1 696.0,331.8 700.0,330.7C704.0,329.6 709.8,326.7 713.3,326.7C716.9,326.7 718.0,331.1 721.3,330.7C724.7,330.2 729.1,325.8 733.3,324.0C737.6,322.2 741.6,321.3 746.7,320.0C751.8,318.7 758.4,317.6 764.0,316.0C769.6,314.4 777.3,308.9 780.0,310.7C782.7,312.4 781.6,321.8 780.0,326.7C778.4,331.6 773.3,335.6 770.7,340.0C768.0,344.4 765.6,348.9 764.0,353.3C762.4,357.8 762.7,362.7 761.3,366.7C760.0,370.7 758.7,374.2 756.0,377.3C753.3,380.4 749.1,382.7 745.3,385.3C741.6,388.0 736.9,390.7 733.3,393.3C729.8,396.0 726.9,397.8 724.0,401.3C721.1,404.9 718.7,411.6 716.0,414.7C713.3,417.8 712.9,419.1 708.0,420.0C703.1,420.9 688.9,422.2 686.7,420.0C684.4,417.8 691.6,410.2 694.7,406.7C697.8,403.1 702.2,401.3 705.3,398.7C708.4,396.0 711.6,392.9 713.3,390.7C715.1,388.4 716.9,386.7 716.0,385.3C715.1,384.0 711.6,383.0 708.0,382.7C704.4,382.3 699.3,382.7 694.7,383.3C690.0,384.0 685.1,385.7 680.0,386.7C674.9,387.7 669.3,388.4 664.0,389.3C658.7,390.2 651.7,391.8 648.0,392.0C644.3,392.2 643.3,392.7 642.0,390.7C640.7,388.7 640.6,383.6 640.0,380.0C639.4,376.4 638.7,372.9 638.7,369.3Z" fill="#3399ff"/>
<path d="M509.6,309.0C510.3,307.6 514.9,303.7 518.0,302.4C521.1,301.1 525.4,300.8 528.0,301.0C530.6,301.2 533.1,302.3 533.6,303.6C534.1,304.9 532.9,308.3 531.0,309.0C529.1,309.7 524.8,307.7 522.0,308.0C519.2,308.3 516.1,310.8 514.0,311.0C511.9,311.2 508.9,310.4 509.6,309.0Z" fill="#3399ff"/>
<ellipse cx="580.6" cy="301.6" rx="7.6" ry="5.0" transform="rotate(0 580.6 301.6)" fill="#3399ff"/>
<path d="M598.0,314.0C598.8,312.0 604.3,312.5 608.0,312.0C611.7,311.5 615.7,312.0 620.0,311.0C624.3,310.0 630.7,306.2 634.0,306.0C637.3,305.8 637.7,308.2 640.0,310.0C642.3,311.8 646.3,314.3 648.0,317.0C649.7,319.7 650.7,323.7 650.0,326.0C649.3,328.3 647.0,329.3 644.0,331.0C641.0,332.7 635.3,335.5 632.0,336.0C628.7,336.5 626.0,335.2 624.0,334.0C622.0,332.8 622.3,329.7 620.0,329.0C617.7,328.3 612.8,330.8 610.0,330.0C607.2,329.2 605.0,326.7 603.0,324.0C601.0,321.3 597.2,316.0 598.0,314.0Z" fill="#3399ff"/>
<path d="M520.0,388.0L530.0,381.0L544.0,378.0" fill="none" stroke="#3399ff" stroke-width="6.8" stroke-linecap="round" stroke-linejoin="round"/>
<path d="M556.0,390.0C557.7,387.0 561.0,386.0 564.0,384.0C567.0,382.0 570.7,380.0 574.0,378.0C577.3,376.0 582.2,371.7 584.0,372.0C585.8,372.3 586.0,376.3 585.0,380.0C584.0,383.7 580.2,389.7 578.0,394.0C575.8,398.3 574.2,403.0 572.0,406.0C569.8,409.0 567.3,410.3 565.0,412.0C562.7,413.7 559.2,414.0 558.0,416.0C556.8,418.0 557.0,421.7 558.0,424.0C559.0,426.3 572.7,429.0 564.0,430.0C555.3,431.0 513.3,431.3 506.0,430.0C498.7,428.7 516.0,424.3 520.0,422.0C524.0,419.7 525.7,418.0 530.0,416.0C534.3,414.0 542.0,412.3 546.0,410.0C550.0,407.7 552.3,405.3 554.0,402.0C555.7,398.7 554.3,393.0 556.0,390.0Z" fill="#3399ff"/>
<path d="M700.0,330.0C701.7,313.5 706.7,327.0 710.0,327.0C713.3,327.0 715.7,330.2 720.0,330.0C724.3,329.8 731.7,327.2 736.0,325.6C740.3,324.0 742.0,321.8 746.0,320.4C750.0,319.0 755.0,318.7 760.0,317.0C765.0,315.3 771.4,311.9 776.0,310.0C780.6,308.1 785.6,305.3 787.6,305.6C789.6,305.9 789.3,309.6 788.0,312.0C786.7,314.4 783.0,317.0 780.0,320.0C777.0,323.0 772.3,326.0 770.0,330.0C767.7,334.0 768.0,340.0 766.0,344.0C764.0,348.0 759.5,350.7 758.0,354.0C756.5,357.3 758.7,360.0 757.0,364.0C755.3,368.0 751.5,373.7 748.0,378.0C744.5,382.3 740.0,385.3 736.0,390.0C732.0,394.7 728.0,401.3 724.0,406.0C720.0,410.7 716.0,414.7 712.0,418.0C708.0,421.3 702.0,440.7 700.0,426.0C698.0,411.3 698.3,346.5 700.0,330.0Z" fill="#3399ff"/>
<ellipse cx="768.0" cy="293.0" rx="11.0" ry="4.0" transform="rotate(-20 768.0 293.0)" fill="#3399ff"/>
<path d="M764.0,376.0L758.0,388.0L752.0,400.0" fill="none" stroke="#3399ff" stroke-width="4.8" stroke-linecap="round" stroke-linejoin="round"/>
<path d="M847.0,291.6L853.0,289.6" fill="none" stroke="#3399ff" stroke-width="1.0" stroke-linecap="round" stroke-linejoin="round"/>
<path d="M873.0,278.4L876.0,278.0" fill="none" stroke="#3399ff" stroke-width="1.0" stroke-linecap="round" stroke-linejoin="round"/>
<ellipse cx="937.0" cy="311.0" rx="3.6" ry="4.4" transform="rotate(0 937.0 311.0)" fill="#3399ff"/>
<path d="M913.0,343.0C913.0,341.0 916.8,337.3 920.0,336.0C923.2,334.7 928.7,336.0 932.0,335.0C935.3,334.0 938.7,328.5 940.0,330.0C941.3,331.5 941.7,341.3 940.0,344.0C938.3,346.7 933.3,345.3 930.0,346.0C926.7,346.7 922.8,348.5 920.0,348.0C917.2,347.5 913.0,345.0 913.0,343.0Z" fill="#3399ff"/>
<path d="M934.0,350.0C934.7,348.8 939.0,347.0 940.0,348.0C941.0,349.0 940.7,354.8 940.0,356.0C939.3,357.2 937.0,356.0 936.0,355.0C935.0,354.0 933.3,351.2 934.0,350.0Z" fill="#3399ff"/>
<path d="M838.0,378.0C841.0,375.7 845.5,374.0 848.0,374.0C850.5,374.0 853.0,375.3 853.0,378.0C853.0,380.7 849.8,386.0 848.0,390.0C846.2,394.0 843.3,398.3 842.0,402.0C840.7,405.7 841.7,409.3 840.0,412.0C838.3,414.7 835.3,416.8 832.0,418.0C828.7,419.2 824.0,419.8 820.0,419.0C816.0,418.2 809.0,415.2 808.0,413.0C807.0,410.8 811.3,408.5 814.0,406.0C816.7,403.5 821.3,401.0 824.0,398.0C826.7,395.0 827.7,391.3 830.0,388.0C832.3,384.7 835.0,380.3 838.0,378.0Z" fill="#3399ff"/>
<ellipse cx="799.4" cy="378.6" rx="2.4" ry="2.4" transform="rotate(0 799.4 378.6)" fill="#3399ff"/>
<path d="M766.0,406.0L780.0,393.0" fill="none" stroke="#3399ff" stroke-width="6.0" stroke-linecap="round" stroke-linejoin="round"/>
<ellipse cx="792.0" cy="405.0" rx="1.4" ry="2.0" transform="rotate(0 792.0 405.0)" fill="#3399ff"/>
<path d="M895.0,378.0C896.2,375.0 899.5,372.5 902.0,372.0C904.5,371.5 908.7,372.0 910.0,375.0C911.3,378.0 910.3,385.2 910.0,390.0C909.7,394.8 907.7,400.7 908.0,404.0C908.3,407.3 909.0,409.7 912.0,410.0C915.0,410.3 921.3,407.0 926.0,406.0C930.7,405.0 937.7,400.0 940.0,404.0C942.3,408.0 946.7,425.7 940.0,430.0C933.3,434.3 906.7,432.3 900.0,430.0C893.3,427.7 900.5,420.7 900.0,416.0C899.5,411.3 897.8,406.3 897.0,402.0C896.2,397.7 895.3,394.0 895.0,390.0C894.7,386.0 893.8,381.0 895.0,378.0Z" fill="#3399ff"/>
<path d="M854.0,430.0C851.3,429.0 855.7,425.7 858.0,424.0C860.3,422.3 865.0,420.3 868.0,420.0C871.0,419.7 875.0,420.3 876.0,422.0C877.0,423.7 877.7,428.7 874.0,430.0C870.3,431.3 856.7,431.0 854.0,430.0Z" fill="#3399ff"/>
<ellipse cx="437.0" cy="427.0" rx="5.0" ry="3.2" transform="rotate(30 437.0 427.0)" fill="#3399ff"/>
<path d="M503.0,431.0C503.3,429.8 496.7,426.0 510.0,425.0C523.3,424.0 570.7,423.5 583.0,425.0C595.3,426.5 584.7,431.0 584.0,434.0C583.3,437.0 581.3,440.2 579.0,443.0C576.7,445.8 573.2,448.3 570.0,451.0C566.8,453.7 563.0,457.2 560.0,459.0C557.0,460.8 554.7,462.0 552.0,462.0C549.3,462.0 546.3,460.5 544.0,459.0C541.7,457.5 540.3,455.0 538.0,453.0C535.7,451.0 531.8,449.7 530.0,447.0C528.2,444.3 527.7,439.7 527.0,437.0C526.3,434.3 527.8,432.5 526.0,431.0C524.2,429.5 519.0,427.8 516.0,428.0C513.0,428.2 510.2,431.5 508.0,432.0C505.8,432.5 502.7,432.2 503.0,431.0Z" fill="#3399ff"/>
<path d="M591.0,468.0C591.7,466.7 593.2,465.0 596.0,464.0C598.8,463.0 604.0,462.5 608.0,462.0C612.0,461.5 616.7,460.5 620.0,461.0C623.3,461.5 624.7,464.3 628.0,465.0C631.3,465.7 636.0,465.5 640.0,465.0C644.0,464.5 647.7,462.5 652.0,462.0C656.3,461.5 661.7,461.7 666.0,462.0C670.3,462.3 674.3,462.2 678.0,464.0C681.7,465.8 685.7,469.5 688.0,473.0C690.3,476.5 689.7,482.3 692.0,485.0C694.3,487.7 697.3,489.3 702.0,489.0C706.7,488.7 717.0,477.3 720.0,483.0C723.0,488.7 721.7,516.3 720.0,523.0C718.3,529.7 713.3,523.0 710.0,523.0C706.7,523.0 703.7,523.3 700.0,523.0C696.3,522.7 692.0,521.7 688.0,521.0C684.0,520.3 679.7,519.8 676.0,519.0C672.3,518.2 669.3,517.3 666.0,516.0C662.7,514.7 659.3,513.5 656.0,511.0C652.7,508.5 649.0,503.7 646.0,501.0C643.0,498.3 641.0,496.3 638.0,495.0C635.0,493.7 631.0,494.3 628.0,493.0C625.0,491.7 622.0,489.3 620.0,487.0C618.0,484.7 618.0,481.0 616.0,479.0C614.0,477.0 611.0,475.8 608.0,475.0C605.0,474.2 600.7,474.5 598.0,474.0C595.3,473.5 593.2,473.0 592.0,472.0C590.8,471.0 590.3,469.3 591.0,468.0Z" fill="#3399ff"/>
<path d="M683.0,457.0C683.2,454.5 683.8,450.3 686.0,447.0C688.2,443.7 692.7,439.2 696.0,437.0C699.3,434.8 703.0,434.0 706.0,434.0C709.0,434.0 712.5,434.8 714.0,437.0C715.5,439.2 715.7,444.0 715.0,447.0C714.3,450.0 712.5,452.7 710.0,455.0C707.5,457.3 703.3,459.5 700.0,461.0C696.7,462.5 692.5,463.8 690.0,464.0C687.5,464.2 686.2,463.2 685.0,462.0C683.8,460.8 682.8,459.5 683.0,457.0Z" fill="#3399ff"/>
<ellipse cx="704.0" cy="473.0" rx="5.6" ry="4.0" transform="rotate(-20 704.0 473.0)" fill="#3399ff"/>
<path d="M713.0,457.0C713.8,454.2 718.8,449.0 720.0,451.0C721.2,453.0 720.8,466.2 720.0,469.0C719.2,471.8 716.2,470.0 715.0,468.0C713.8,466.0 712.2,459.8 713.0,457.0Z" fill="#3399ff"/>
<path d="M699.0,425.0C696.5,426.0 698.8,429.7 700.0,431.0C701.2,432.3 703.8,433.2 706.0,433.0C708.2,432.8 711.5,431.3 713.0,430.0C714.5,428.7 717.3,425.8 715.0,425.0C712.7,424.2 701.5,424.0 699.0,425.0Z" fill="#3399ff"/>
<path d="M673.0,585.0C674.0,583.8 677.5,583.8 680.0,582.0C682.5,580.2 685.7,575.7 688.0,574.0C690.3,572.3 692.5,571.7 694.0,572.0C695.5,572.3 696.8,574.2 697.0,576.0C697.2,577.8 696.5,581.0 695.0,583.0C693.5,585.0 690.7,586.7 688.0,588.0C685.3,589.3 681.3,590.8 679.0,591.0C676.7,591.2 675.0,590.0 674.0,589.0C673.0,588.0 672.0,586.2 673.0,585.0Z" fill="#3399ff"/>
<path d="M704.0,605.0C701.8,604.0 705.3,600.8 707.0,599.0C708.7,597.2 711.8,595.3 714.0,594.0C716.2,592.7 719.0,589.2 720.0,591.0C721.0,592.8 722.7,602.7 720.0,605.0C717.3,607.3 706.2,606.0 704.0,605.0Z" fill="#3399ff"/>
<path d="M700.0,425.0C705.0,419.7 726.0,424.0 730.0,425.0C734.0,426.0 726.3,429.0 724.0,431.0C721.7,433.0 718.0,434.7 716.0,437.0C714.0,439.3 713.0,442.7 712.0,445.0C711.0,447.3 712.0,449.0 710.0,451.0C708.0,453.0 701.7,461.3 700.0,457.0C698.3,452.7 695.0,430.3 700.0,425.0Z" fill="#3399ff"/>
<ellipse cx="749.0" cy="432.6" rx="7.0" ry="5.6" transform="rotate(-40 749.0 432.6)" fill="#3399ff"/>
<path d="M714.0,463.0C714.8,460.5 717.3,457.2 720.0,455.0C722.7,452.8 726.7,450.2 730.0,450.0C733.3,449.8 736.0,453.3 740.0,454.0C744.0,454.7 749.7,453.3 754.0,454.0C758.3,454.7 763.7,455.8 766.0,458.0C768.3,460.2 768.7,463.8 768.0,467.0C767.3,470.2 765.0,474.3 762.0,477.0C759.0,479.7 754.0,481.8 750.0,483.0C746.0,484.2 741.3,484.3 738.0,484.0C734.7,483.7 732.7,482.5 730.0,481.0C727.3,479.5 724.5,476.8 722.0,475.0C719.5,473.2 716.3,472.0 715.0,470.0C713.7,468.0 713.2,465.5 714.0,463.0Z" fill="#3399ff"/>
<path d="M776.0,485.0C776.5,481.0 777.7,478.3 780.0,475.0C782.3,471.7 786.0,468.3 790.0,465.0C794.0,461.7 799.7,458.0 804.0,455.0C808.3,452.0 812.7,449.0 816.0,447.0C819.3,445.0 821.3,442.7 824.0,443.0C826.7,443.3 828.7,446.7 832.0,449.0C835.3,451.3 840.3,456.0 844.0,457.0C847.7,458.0 852.7,454.0 854.0,455.0C855.3,456.0 854.3,460.7 852.0,463.0C849.7,465.3 843.3,466.0 840.0,469.0C836.7,472.0 834.7,477.7 832.0,481.0C829.3,484.3 827.3,487.0 824.0,489.0C820.7,491.0 816.7,491.3 812.0,493.0C807.3,494.7 800.7,497.3 796.0,499.0C791.3,500.7 787.2,503.0 784.0,503.0C780.8,503.0 778.3,502.0 777.0,499.0C775.7,496.0 775.5,489.0 776.0,485.0Z" fill="#3399ff"/>
<ellipse cx="780.0" cy="437.4" rx="8.4" ry="4.8" transform="rotate(-35 780.0 437.4)" fill="#3399ff"/>
<path d="M854.0,425.0C864.3,424.1 930.0,418.0 940.0,425.0C950.0,432.0 941.2,478.2 940.0,485.0C938.8,491.8 932.3,483.0 930.0,483.0C927.7,483.0 922.3,484.1 920.0,485.0C917.7,485.9 912.3,489.8 910.0,491.0C907.7,492.2 902.6,494.3 900.0,495.0C897.4,495.7 890.3,497.5 888.0,497.0C885.7,496.5 881.4,492.6 880.0,491.0C878.6,489.4 877.6,483.9 876.0,483.0C874.4,482.1 868.1,483.2 866.0,483.0C863.9,482.8 859.4,481.7 858.0,481.0C856.6,480.3 854.0,478.9 854.0,477.0C854.0,475.1 856.6,467.6 858.0,465.0C859.4,462.4 865.8,456.4 866.0,455.0C866.2,453.6 861.2,454.4 860.0,453.0C858.8,451.6 856.9,445.3 856.0,443.0C855.1,440.7 852.2,435.1 852.0,433.0C851.8,430.9 843.7,425.9 854.0,425.0Z" fill="#3399ff"/>
<path d="M876.0,495.0C877.7,494.7 886.0,498.7 890.0,499.0C894.0,499.3 896.7,498.0 900.0,497.0C903.3,496.0 906.7,493.3 910.0,493.0C913.3,492.7 916.7,493.0 920.0,495.0C923.3,497.0 926.7,503.0 930.0,505.0C933.3,507.0 938.3,505.3 940.0,507.0C941.7,508.7 941.7,514.0 940.0,515.0C938.3,516.0 933.3,513.0 930.0,513.0C926.7,513.0 923.7,515.0 920.0,515.0C916.3,515.0 911.3,514.0 908.0,513.0C904.7,512.0 903.0,510.3 900.0,509.0C897.0,507.7 893.3,506.3 890.0,505.0C886.7,503.7 882.3,502.7 880.0,501.0C877.7,499.3 874.3,495.3 876.0,495.0Z" fill="#3399ff"/>
<path d="M692.0,485.0C693.3,479.7 697.0,484.8 700.0,484.0C703.0,483.2 706.7,480.5 710.0,480.0C713.3,479.5 716.7,480.2 720.0,481.0C723.3,481.8 726.7,483.3 730.0,485.0C733.3,486.7 737.3,488.3 740.0,491.0C742.7,493.7 745.0,497.7 746.0,501.0C747.0,504.3 747.0,508.0 746.0,511.0C745.0,514.0 742.7,517.3 740.0,519.0C737.3,520.7 733.3,521.0 730.0,521.0C726.7,521.0 723.3,519.6 720.0,519.0C716.7,518.4 713.3,517.7 710.0,517.4C706.7,517.1 703.0,517.6 700.0,517.4C697.0,517.2 693.3,521.4 692.0,516.0C690.7,510.6 690.7,490.3 692.0,485.0Z" fill="#3399ff"/>
<path d="M738.0,525.0C739.3,522.3 743.7,519.7 746.0,519.0C748.3,518.3 749.7,519.3 752.0,521.0C754.3,522.7 757.0,527.3 760.0,529.0C763.0,530.7 767.7,529.3 770.0,531.0C772.3,532.7 771.7,537.0 774.0,539.0C776.3,541.0 780.7,542.3 784.0,543.0C787.3,543.7 791.8,542.0 794.0,543.0C796.2,544.0 797.3,546.0 797.0,549.0C796.7,552.0 793.5,557.0 792.0,561.0C790.5,565.0 789.0,569.3 788.0,573.0C787.0,576.7 787.3,580.5 786.0,583.0C784.7,585.5 782.7,588.0 780.0,588.0C777.3,588.0 773.3,584.5 770.0,583.0C766.7,581.5 763.3,580.7 760.0,579.0C756.7,577.3 752.7,575.3 750.0,573.0C747.3,570.7 745.7,568.0 744.0,565.0C742.3,562.0 740.3,558.3 740.0,555.0C739.7,551.7 742.3,548.3 742.0,545.0C741.7,541.7 738.7,538.3 738.0,535.0C737.3,531.7 736.7,527.7 738.0,525.0Z" fill="#3399ff"/>
<path d="M746.0,555.0C747.5,557.0 747.7,569.0 750.0,573.0C752.3,577.0 758.8,577.5 760.0,579.0C761.2,580.5 758.7,582.2 757.0,582.0C755.3,581.8 752.3,580.2 750.0,578.0C747.7,575.8 744.5,571.8 743.0,569.0C741.5,566.2 740.5,563.3 741.0,561.0C741.5,558.7 744.5,553.0 746.0,555.0Z" fill="#3399ff"/>
<path d="M700.0,589.0C701.3,586.7 705.3,590.0 708.0,591.0C710.7,592.0 713.3,593.7 716.0,595.0C718.7,596.3 722.0,597.3 724.0,599.0C726.0,600.7 732.0,604.0 728.0,605.0C724.0,606.0 704.7,607.7 700.0,605.0C695.3,602.3 698.7,591.3 700.0,589.0Z" fill="#3399ff"/>
<path d="M732.0,605.0C728.7,604.0 733.7,600.3 736.0,599.0C738.3,597.7 743.0,596.7 746.0,597.0C749.0,597.3 752.3,599.7 754.0,601.0C755.7,602.3 759.7,604.3 756.0,605.0C752.3,605.7 735.3,606.0 732.0,605.0Z" fill="#3399ff"/>
<ellipse cx="812.0" cy="561.6" rx="7.0" ry="4.4" transform="rotate(-40 812.0 561.6)" fill="#3399ff"/>
<path d="M854.0,605.0C853.0,604.3 856.5,601.7 858.0,601.0C859.5,600.3 862.0,600.3 863.0,601.0C864.0,601.7 865.5,604.3 864.0,605.0C862.5,605.7 855.0,605.7 854.0,605.0Z" fill="#3399ff"/>
<path d="M610.0,632.0C610.2,628.5 610.8,622.8 612.0,620.0C613.2,617.2 615.0,615.3 617.0,615.0C619.0,614.7 622.0,616.2 624.0,618.0C626.0,619.8 628.3,623.3 629.0,626.0C629.7,628.7 629.2,631.7 628.0,634.0C626.8,636.3 624.0,638.3 622.0,640.0C620.0,641.7 617.8,643.8 616.0,644.0C614.2,644.2 612.0,643.0 611.0,641.0C610.0,639.0 609.8,635.5 610.0,632.0Z" fill="#3399ff"/>
<ellipse cx="676.6" cy="673.0" rx="2.6" ry="2.8" transform="rotate(0 676.6 673.0)" fill="#3399ff"/>
<path d="M706.0,604.0C706.3,602.0 699.7,600.7 710.0,600.0C720.3,599.3 758.7,598.3 768.0,600.0C777.3,601.7 767.0,606.3 766.0,610.0C765.0,613.7 763.3,618.0 762.0,622.0C760.7,626.0 759.7,630.7 758.0,634.0C756.3,637.3 754.0,639.7 752.0,642.0C750.0,644.3 748.0,646.7 746.0,648.0C744.0,649.3 741.3,650.7 740.0,650.0C738.7,649.3 737.7,646.7 738.0,644.0C738.3,641.3 740.7,637.3 742.0,634.0C743.3,630.7 745.3,627.3 746.0,624.0C746.7,620.7 747.0,616.3 746.0,614.0C745.0,611.7 742.3,610.7 740.0,610.0C737.7,609.3 734.7,609.7 732.0,610.0C729.3,610.3 726.7,611.3 724.0,612.0C721.3,612.7 718.7,614.0 716.0,614.0C713.3,614.0 709.7,613.7 708.0,612.0C706.3,610.3 705.7,606.0 706.0,604.0Z" fill="#3399ff"/>
<path d="M726.0,700.0C726.2,698.3 727.0,696.0 729.0,696.0C731.0,696.0 734.8,699.2 738.0,700.0C741.2,700.8 746.0,699.7 748.0,701.0C750.0,702.3 750.2,705.7 750.0,708.0C749.8,710.3 748.7,713.7 747.0,715.0C745.3,716.3 742.3,716.5 740.0,716.0C737.7,715.5 735.0,713.7 733.0,712.0C731.0,710.3 729.2,708.0 728.0,706.0C726.8,704.0 725.8,701.7 726.0,700.0Z" fill="#3399ff"/>
<path d="M823.0,626.0C823.7,623.7 827.2,619.0 830.0,616.0C832.8,613.0 836.3,610.2 840.0,608.0C843.7,605.8 848.3,604.0 852.0,603.0C855.7,602.0 860.2,600.5 862.0,602.0C863.8,603.5 862.7,608.3 863.0,612.0C863.3,615.7 864.2,620.0 864.0,624.0C863.8,628.0 863.0,632.3 862.0,636.0C861.0,639.7 859.7,643.7 858.0,646.0C856.3,648.3 854.3,649.7 852.0,650.0C849.7,650.3 846.0,649.7 844.0,648.0C842.0,646.3 841.7,642.7 840.0,640.0C838.3,637.3 836.3,633.7 834.0,632.0C831.7,630.3 827.8,631.0 826.0,630.0C824.2,629.0 822.3,628.3 823.0,626.0Z" fill="#3399ff"/>
<ellipse cx="889.0" cy="654.0" rx="3.6" ry="6.0" transform="rotate(25 889.0 654.0)" fill="#3399ff"/>
<path d="M896.0,668.0C896.3,666.3 900.7,665.3 904.0,664.0C907.3,662.7 912.7,660.7 916.0,660.0C919.3,659.3 922.3,659.0 924.0,660.0C925.7,661.0 926.3,664.0 926.0,666.0C925.7,668.0 922.0,669.7 922.0,672.0C922.0,674.3 924.0,677.0 926.0,680.0C928.0,683.0 931.7,687.3 934.0,690.0C936.3,692.7 939.0,692.3 940.0,696.0C941.0,699.7 941.7,710.0 940.0,712.0C938.3,714.0 933.3,709.3 930.0,708.0C926.7,706.7 923.7,705.0 920.0,704.0C916.3,703.0 911.3,702.3 908.0,702.0C904.7,701.7 901.7,703.0 900.0,702.0C898.3,701.0 897.3,698.0 898.0,696.0C898.7,694.0 902.0,692.0 904.0,690.0C906.0,688.0 909.0,686.3 910.0,684.0C911.0,681.7 911.3,677.7 910.0,676.0C908.7,674.3 904.3,675.3 902.0,674.0C899.7,672.7 895.7,669.7 896.0,668.0Z" fill="#3399ff"/>
<ellipse cx="899.0" cy="729.6" rx="7.0" ry="9.0" transform="rotate(15 899.0 729.6)" fill="#3399ff"/>
<path d="M844.0,712.0C844.2,709.7 846.0,708.0 848.0,706.0C850.0,704.0 853.7,701.0 856.0,700.0C858.3,699.0 861.2,698.7 862.0,700.0C862.8,701.3 861.7,705.3 861.0,708.0C860.3,710.7 859.5,713.7 858.0,716.0C856.5,718.3 853.8,721.3 852.0,722.0C850.2,722.7 848.3,721.7 847.0,720.0C845.7,718.3 843.8,714.3 844.0,712.0Z" fill="#3399ff"/>
<path d="M834.8,692.4L837.6,692.4" fill="none" stroke="#3399ff" stroke-width="1.6" stroke-linecap="round" stroke-linejoin="round"/>
<path d="M742.0,746.0C742.0,744.0 746.0,741.0 748.0,740.0C750.0,739.0 752.3,738.7 754.0,740.0C755.7,741.3 756.7,745.0 758.0,748.0C759.3,751.0 760.3,755.0 762.0,758.0C763.7,761.0 765.7,763.3 768.0,766.0C770.3,768.7 773.3,771.7 776.0,774.0C778.7,776.3 786.7,779.0 784.0,780.0C781.3,781.0 764.7,781.7 760.0,780.0C755.3,778.3 757.3,773.3 756.0,770.0C754.7,766.7 753.3,763.0 752.0,760.0C750.7,757.0 749.7,754.3 748.0,752.0C746.3,749.7 742.0,748.0 742.0,746.0Z" fill="#3399ff"/>
<path d="M796.0,780.0C783.7,778.7 798.3,774.7 800.0,772.0C801.7,769.3 803.7,766.3 806.0,764.0C808.3,761.7 811.7,759.3 814.0,758.0C816.3,756.7 819.3,757.7 820.0,756.0C820.7,754.3 818.0,750.3 818.0,748.0C818.0,745.7 818.3,742.3 820.0,742.0C821.7,741.7 824.7,744.3 828.0,746.0C831.3,747.7 836.0,749.7 840.0,752.0C844.0,754.3 848.7,758.7 852.0,760.0C855.3,761.3 857.0,759.7 860.0,760.0C863.0,760.3 867.7,760.3 870.0,762.0C872.3,763.7 873.3,767.0 874.0,770.0C874.7,773.0 887.0,778.3 874.0,780.0C861.0,781.7 808.3,781.3 796.0,780.0Z" fill="#3399ff"/>
<ellipse cx="929.6" cy="768.0" rx="7.0" ry="8.0" transform="rotate(0 929.6 768.0)" fill="#3399ff"/>
<path d="M770.0,784.0C770.2,782.5 774.4,779.6 776.0,779.0C777.6,778.4 781.9,778.9 784.0,779.0C786.1,779.1 792.1,780.6 794.0,780.0C795.9,779.4 798.8,775.9 800.0,774.0C801.2,772.1 802.6,765.9 804.0,764.0C805.4,762.1 809.7,758.7 812.0,758.0C814.3,757.3 821.2,757.8 824.0,758.0C826.8,758.2 833.2,759.5 836.0,760.0C838.8,760.5 845.2,761.8 848.0,762.0C850.8,762.2 857.4,761.8 860.0,762.0C862.6,762.2 868.1,763.1 870.0,764.0C871.9,764.9 875.2,768.4 876.0,770.0C876.8,771.6 877.7,776.1 877.0,778.0C876.3,779.9 872.0,784.6 870.0,786.0C868.0,787.4 861.9,788.8 860.0,790.0C858.1,791.2 854.9,794.4 854.0,796.0C853.1,797.6 852.1,800.7 852.0,804.0C851.9,807.3 859.5,821.7 853.0,824.0C846.5,826.3 802.6,825.4 796.0,824.0C789.4,822.6 796.5,814.3 796.0,812.0C795.5,809.7 793.4,805.9 792.0,804.0C790.6,802.1 786.1,797.4 784.0,796.0C781.9,794.6 775.6,793.4 774.0,792.0C772.4,790.6 769.8,785.5 770.0,784.0Z" fill="#3399ff"/>
<ellipse cx="915.0" cy="814.4" rx="3.0" ry="5.0" transform="rotate(-20 915.0 814.4)" fill="#3399ff"/>
<path d="M265.0,604.3C265.6,602.9 267.3,599.7 269.0,598.3C270.7,597.0 272.9,596.7 275.0,596.3C277.1,596.0 279.4,595.8 281.7,596.3C283.9,596.8 286.3,599.1 288.3,599.3C290.3,599.6 292.0,598.3 293.7,597.7C295.3,597.1 296.8,595.7 298.3,595.7C299.9,595.7 302.1,596.7 303.0,597.7C303.9,598.7 304.2,600.4 304.0,601.7C303.8,602.9 302.7,604.4 301.7,605.0C300.6,605.6 299.2,605.6 297.7,605.3C296.1,605.1 294.1,603.8 292.3,603.7C290.6,603.6 288.8,604.0 287.0,604.7C285.2,605.3 283.7,606.6 281.7,607.7C279.7,608.7 277.0,610.6 275.0,611.0C273.0,611.4 271.2,611.0 269.7,610.3C268.1,609.7 266.4,608.0 265.7,607.0C264.9,606.0 264.4,605.8 265.0,604.3Z" fill="#3399ff"/>
<path d="M713.3,463.7C714.0,461.7 716.5,456.2 718.7,454.3C720.8,452.5 726.0,450.2 729.3,449.7C732.7,449.1 740.4,449.4 744.0,450.3C747.6,451.3 753.0,455.8 756.0,457.0C759.0,458.2 764.2,459.7 766.7,459.7C769.2,459.7 772.2,457.2 774.7,457.0C777.2,456.8 782.5,458.7 785.3,458.3C788.2,458.0 793.2,455.2 796.0,454.3C798.8,453.4 803.8,452.7 806.7,451.7C809.5,450.6 814.8,446.9 817.3,446.3C819.8,445.8 823.2,446.4 825.3,447.7C827.5,448.9 830.7,454.2 833.3,455.7C836.0,457.1 842.7,458.9 845.3,458.3C848.0,457.8 852.1,451.5 853.3,451.7C854.6,451.8 855.6,457.4 854.7,459.7C853.8,462.0 848.8,466.5 846.7,469.0C844.5,471.5 840.8,476.0 838.7,478.3C836.5,480.6 833.2,484.2 830.7,486.3C828.2,488.5 822.1,492.0 820.0,494.3C817.9,496.6 817.2,501.9 814.7,503.7C812.2,505.4 805.2,507.7 801.3,507.7C797.4,507.7 788.9,503.8 785.3,503.7C781.8,503.5 777.0,506.3 774.7,506.3C772.4,506.3 768.7,505.6 768.0,503.7C767.3,501.7 768.4,494.3 769.3,491.7C770.2,489.0 775.0,485.1 774.7,483.7C774.3,482.2 768.8,481.0 766.7,481.0C764.5,481.0 760.8,483.5 758.7,483.7C756.5,483.8 753.2,482.3 750.7,482.3C748.2,482.3 742.8,483.8 740.0,483.7C737.2,483.5 731.8,482.4 729.3,481.0C726.8,479.6 723.5,474.6 721.3,473.0C719.2,471.4 714.4,470.2 713.3,469.0C712.3,467.8 712.6,465.6 713.3,463.7Z" fill="#3399ff"/>
<path d="M813.3,430.3C814.4,429.0 817.3,428.1 818.7,429.0C820.0,429.9 821.1,433.2 821.3,435.7C821.6,438.1 820.7,441.7 820.0,443.7C819.3,445.7 818.4,447.4 817.3,447.7C816.2,447.9 814.2,446.8 813.3,445.0C812.4,443.2 812.0,439.4 812.0,437.0C812.0,434.6 812.2,431.7 813.3,430.3Z" fill="#3399ff"/>
<path d="M743.0,442.0L750.0,431.0L757.0,422.0" fill="none" stroke="#3399ff" stroke-width="7.2" stroke-linecap="round" stroke-linejoin="round"/>
<path d="M816.0,422.0L817.0,436.0L818.0,450.0" fill="none" stroke="#3399ff" stroke-width="6.0" stroke-linecap="round" stroke-linejoin="round"/>
<path d="M444.0,403.5C443.9,402.8 446.3,400.1 447.0,399.5C447.7,398.9 450.4,398.0 451.0,398.0C451.6,398.0 453.0,398.9 453.0,399.5C453.0,400.1 451.5,402.8 451.0,403.5C450.5,404.2 448.7,406.5 448.0,406.5C447.3,406.5 444.1,404.2 444.0,403.5Z" fill="#3399ff"/>
<path d="M503.0,431.0C503.1,430.4 505.2,427.7 506.0,427.0C506.8,426.3 510.0,424.4 511.0,424.0C512.0,423.6 515.1,422.7 516.0,422.5C516.9,422.3 519.6,421.4 520.0,422.0C520.4,422.6 520.5,427.8 520.0,428.5C519.5,429.2 516.1,428.8 515.0,429.0C513.9,429.2 510.0,430.6 509.0,431.0C508.0,431.4 505.6,433.0 505.0,433.0C504.4,433.0 502.9,431.6 503.0,431.0Z" fill="#3399ff"/>
<path d="M888.0,406.0L892.0,420.0L897.0,436.0" fill="none" stroke="#66ffff" stroke-width="12.0" stroke-linecap="round" stroke-linejoin="round"/>
<path d="M737.3,366.0L742.7,360.0" fill="none" stroke="#66ffff" stroke-width="3.2" stroke-linecap="round" stroke-linejoin="round"/>
<path d="M876.0,437.0C877.3,435.3 882.0,433.3 886.0,433.0C890.0,432.7 897.0,433.7 900.0,435.0C903.0,436.3 904.7,439.3 904.0,441.0C903.3,442.7 899.3,444.3 896.0,445.0C892.7,445.7 887.0,445.3 884.0,445.0C881.0,444.7 879.3,444.3 878.0,443.0C876.7,441.7 874.7,438.7 876.0,437.0Z" fill="#66ffff"/>
<path d="M922.0,483.0C923.3,480.3 927.0,479.5 930.0,479.0C933.0,478.5 938.3,475.0 940.0,480.0C941.7,485.0 941.7,504.8 940.0,509.0C938.3,513.2 933.0,507.3 930.0,505.0C927.0,502.7 923.3,498.7 922.0,495.0C920.7,491.3 920.7,485.7 922.0,483.0Z" fill="#66ffff"/>
<path d="M890.0,407.0L893.0,420.0L897.0,433.6" fill="none" stroke="#ffffff" stroke-width="5.6" stroke-linecap="round" stroke-linejoin="round"/>
<ellipse cx="930.0" cy="492.6" rx="6.0" ry="6.0" transform="rotate(0 930.0 492.6)" fill="#ffffff"/>
<ellipse cx="929.3" cy="491.9" rx="5.6" ry="6.4" transform="rotate(0 929.3 491.9)" fill="#ffffff"/>
<path d="M643.3,362.7C643.8,360.2 644.3,357.6 646.7,354.7C649.0,351.8 655.1,348.2 657.3,345.3C659.6,342.4 658.4,339.2 660.0,337.3C661.6,335.5 664.8,334.6 666.7,334.4C668.6,334.2 671.4,334.6 671.3,336.0C671.2,337.4 667.1,340.4 666.0,342.7C664.9,344.9 663.9,348.0 664.7,349.3C665.4,350.7 668.1,351.1 670.7,350.7C673.2,350.2 676.9,348.4 680.0,346.7C683.1,344.9 686.0,342.1 689.3,340.0C692.7,337.9 696.2,335.7 700.0,334.0C703.8,332.3 709.2,330.2 712.0,330.0C714.8,329.8 716.0,330.6 716.7,332.7C717.3,334.8 715.2,340.3 716.0,342.7C716.8,345.0 719.6,346.9 721.3,346.7C723.1,346.4 724.4,343.3 726.7,341.3C728.9,339.3 732.3,336.7 734.7,334.7C737.0,332.7 739.8,328.7 740.7,329.3C741.6,330.0 739.6,336.0 740.0,338.7C740.4,341.3 743.3,343.3 743.3,345.3C743.3,347.3 741.4,348.9 740.0,350.7C738.6,352.4 736.9,353.8 734.7,356.0C732.4,358.2 728.9,363.6 726.7,364.0C724.4,364.4 723.1,358.4 721.3,358.7C719.6,358.9 718.2,363.0 716.0,365.3C713.8,367.7 711.6,370.4 708.0,372.7C704.4,374.9 699.3,377.1 694.7,378.7C690.0,380.2 685.1,380.9 680.0,382.0C674.9,383.1 667.6,385.4 664.0,385.3C660.4,385.2 659.8,382.9 658.7,381.3C657.6,379.8 658.9,377.4 657.3,376.0C655.8,374.6 651.6,373.8 649.3,372.7C647.1,371.6 645.0,371.0 644.0,369.3C643.0,367.7 642.9,365.1 643.3,362.7Z" fill="#0000ff"/>
<path d="M692.7,413.3C692.9,411.2 695.0,409.1 697.3,406.7C699.7,404.2 703.6,401.8 706.7,398.7C709.8,395.6 712.9,391.3 716.0,388.0C719.1,384.7 722.0,381.8 725.3,378.7C728.7,375.6 732.7,372.4 736.0,369.3C739.3,366.2 742.4,362.8 745.3,360.0C748.2,357.2 751.3,353.8 753.3,352.7C755.3,351.6 757.1,351.9 757.3,353.3C757.6,354.8 756.4,358.4 754.7,361.3C752.9,364.2 749.3,367.8 746.7,370.7C744.0,373.6 741.3,376.2 738.7,378.7C736.0,381.1 732.9,382.7 730.7,385.3C728.4,388.0 727.1,391.1 725.3,394.7C723.6,398.2 722.0,403.3 720.0,406.7C718.0,410.0 715.8,412.4 713.3,414.7C710.9,416.9 708.2,419.2 705.3,420.0C702.4,420.8 698.1,420.4 696.0,419.3C693.9,418.2 692.4,415.4 692.7,413.3Z" fill="#0000ff"/>
<path d="M733.3,413.3L744.0,405.3L753.3,398.7" fill="none" stroke="#0000ff" stroke-width="7.7" stroke-linecap="round" stroke-linejoin="round"/>
<path d="M620.0,317.3C620.9,315.6 623.1,314.8 625.3,314.0C627.6,313.2 630.9,312.6 633.3,312.7C635.8,312.8 638.4,313.4 640.0,314.7C641.6,315.9 642.3,318.0 642.7,320.0C643.0,322.0 642.7,324.9 642.0,326.7C641.3,328.4 639.8,330.3 638.7,330.7C637.6,331.0 636.0,329.7 635.3,328.7C634.7,327.7 635.4,325.9 634.7,324.7C633.9,323.4 632.2,321.8 630.7,321.3C629.1,320.9 627.1,321.4 625.3,322.0C623.6,322.6 620.9,325.4 620.0,324.7C619.1,323.9 619.1,319.1 620.0,317.3Z" fill="#0000ff"/>
<path d="M608.0,323.0C608.7,321.5 610.3,319.5 613.0,318.0C615.7,316.5 620.2,314.7 624.0,314.0C627.8,313.3 632.9,312.9 636.0,313.6C639.1,314.3 641.4,315.8 642.4,318.0C643.4,320.2 642.7,325.0 642.0,327.0C641.3,329.0 639.5,330.2 638.0,330.0C636.5,329.8 634.7,327.5 633.0,326.0C631.3,324.5 630.2,321.5 628.0,321.0C625.8,320.5 622.3,322.0 620.0,323.0C617.7,324.0 615.8,326.3 614.0,327.0C612.2,327.7 610.0,327.7 609.0,327.0C608.0,326.3 607.3,324.5 608.0,323.0Z" fill="#0000ff"/>
<path d="M559.0,393.0C559.5,390.7 561.5,389.8 564.0,388.0C566.5,386.2 571.3,383.7 574.0,382.0C576.7,380.3 579.0,377.8 580.0,378.0C581.0,378.2 581.0,380.3 580.0,383.0C579.0,385.7 575.7,390.5 574.0,394.0C572.3,397.5 571.3,401.7 570.0,404.0C568.7,406.3 567.5,408.3 566.0,408.0C564.5,407.7 562.2,404.5 561.0,402.0C559.8,399.5 558.5,395.3 559.0,393.0Z" fill="#0000ff"/>
<path d="M527.0,420.0C527.8,418.0 531.2,415.5 534.0,414.0C536.8,412.5 540.8,411.2 544.0,411.0C547.2,410.8 551.2,411.7 553.0,413.0C554.8,414.3 555.5,417.0 555.0,419.0C554.5,421.0 552.8,423.4 550.0,425.0C547.2,426.6 541.5,428.2 538.0,428.4C534.5,428.6 530.8,427.4 529.0,426.0C527.2,424.6 526.2,422.0 527.0,420.0Z" fill="#0000ff"/>
<path d="M822.0,410.0C822.8,407.2 825.7,401.7 828.0,398.0C830.3,394.3 833.5,389.3 836.0,388.0C838.5,386.7 842.3,387.3 843.0,390.0C843.7,392.7 841.2,400.3 840.0,404.0C838.8,407.7 838.0,410.0 836.0,412.0C834.0,414.0 830.2,415.5 828.0,416.0C825.8,416.5 824.0,416.0 823.0,415.0C822.0,414.0 821.2,412.8 822.0,410.0Z" fill="#0000ff"/>
<path d="M720.0,344.0C721.0,342.0 727.9,337.5 730.0,336.0C732.1,334.5 740.0,328.8 741.0,329.0C742.0,329.2 739.8,336.4 740.0,338.0C740.2,339.6 743.0,343.4 743.0,345.0C743.0,346.6 741.3,351.9 740.0,354.0C738.7,356.1 731.4,365.6 730.0,366.0C728.6,366.4 727.0,359.0 726.0,358.0C725.0,357.0 720.6,357.4 720.0,356.0C719.4,354.6 719.0,346.0 720.0,344.0Z" fill="#0000ff"/>
<path d="M902.0,420.0C903.7,417.7 908.3,416.8 912.0,416.0C915.7,415.2 921.0,414.3 924.0,415.0C927.0,415.7 929.0,417.5 930.0,420.0C931.0,422.5 934.7,428.3 930.0,430.0C925.3,431.7 906.7,431.7 902.0,430.0C897.3,428.3 900.3,422.3 902.0,420.0Z" fill="#0000ff"/>
<path d="M860.0,430.0C858.3,429.3 862.3,426.7 864.0,426.0C865.7,425.3 868.3,425.3 870.0,426.0C871.7,426.7 875.7,429.3 874.0,430.0C872.3,430.7 861.7,430.7 860.0,430.0Z" fill="#0000ff"/>
<path d="M542.0,439.0C542.5,437.2 544.0,434.7 546.0,433.0C548.0,431.3 551.0,429.7 554.0,429.0C557.0,428.3 560.3,428.4 564.0,428.6C567.7,428.8 572.8,429.1 576.0,430.0C579.2,430.9 581.7,432.5 583.0,434.0C584.3,435.5 584.5,437.3 584.0,439.0C583.5,440.7 582.0,442.3 580.0,444.0C578.0,445.7 574.7,447.2 572.0,449.0C569.3,450.8 566.5,453.7 564.0,455.0C561.5,456.3 558.7,457.7 557.0,457.0C555.3,456.3 555.5,452.7 554.0,451.0C552.5,449.3 549.8,448.2 548.0,447.0C546.2,445.8 544.0,445.3 543.0,444.0C542.0,442.7 541.5,440.8 542.0,439.0Z" fill="#0000ff"/>
<ellipse cx="611.0" cy="467.6" rx="7.6" ry="5.2" transform="rotate(0 611.0 467.6)" fill="#0000ff"/>
<path d="M627.6,478.0C627.8,477.0 629.4,473.8 631.0,472.6C632.6,471.4 638.5,468.9 641.0,468.0C643.5,467.1 649.7,465.5 652.0,465.0C654.3,464.5 659.5,463.8 661.0,464.0C662.5,464.2 664.3,465.7 665.0,467.0C665.7,468.3 665.6,474.2 667.0,475.0C668.4,475.8 675.2,474.0 677.0,474.0C678.8,474.0 681.5,474.2 682.4,475.4C683.3,476.6 684.5,482.2 685.0,484.0C685.5,485.8 685.6,489.5 686.6,490.4C687.6,491.3 691.8,491.1 693.4,491.4C695.0,491.7 698.5,492.9 700.0,493.0C701.5,493.1 705.0,493.0 706.6,492.4C708.2,491.8 712.1,488.5 713.4,487.6C714.7,486.7 716.5,485.0 717.4,485.0C718.3,485.0 720.5,486.8 721.4,487.6C722.3,488.4 724.5,491.0 725.4,491.6C726.3,492.2 728.6,490.3 729.0,493.0C729.4,495.7 730.0,511.9 729.0,514.4C728.0,516.9 721.5,514.8 720.0,514.4C718.5,514.0 717.1,512.2 716.4,511.0C715.7,509.8 714.6,504.0 714.0,504.0C713.4,504.0 712.5,509.6 711.6,511.0C710.7,512.4 708.0,515.4 706.6,515.6C705.2,515.8 701.2,513.9 700.0,513.0C698.8,512.1 696.9,509.0 696.0,508.0C695.1,507.0 693.3,504.4 692.4,504.6C691.5,504.8 689.7,509.6 688.0,510.0C686.3,510.4 680.3,508.1 678.0,508.0C675.7,507.9 669.9,509.1 668.0,509.0C666.1,508.9 663.0,508.1 662.0,507.0C661.0,505.9 660.2,501.9 659.0,500.0C657.8,498.1 654.1,492.6 652.0,491.0C649.9,489.4 643.2,487.5 641.0,486.6C638.8,485.7 634.4,483.7 633.0,483.0C631.6,482.3 629.6,481.6 629.0,481.0C628.4,480.4 627.4,479.0 627.6,478.0Z" fill="none" stroke="#0000ff" stroke-width="3.0" stroke-linejoin="round"/>
<path d="M690.0,457.0L698.0,449.0L708.0,443.0" fill="none" stroke="#0000ff" stroke-width="8.0" stroke-linecap="round" stroke-linejoin="round"/>
<path d="M691.6,578.0L692.4,577.4" fill="none" stroke="#0000ff" stroke-width="1.2" stroke-linecap="round" stroke-linejoin="round"/>
<path d="M710.0,605.0C708.8,604.3 711.3,602.2 713.0,601.0C714.7,599.8 718.8,597.3 720.0,598.0C721.2,598.7 721.7,603.8 720.0,605.0C718.3,606.2 711.2,605.7 710.0,605.0Z" fill="#0000ff"/>
<path d="M747.0,434.0L751.6,429.4" fill="none" stroke="#0000ff" stroke-width="3.2" stroke-linecap="round" stroke-linejoin="round"/>
<path d="M726.0,461.0L731.0,460.6" fill="none" stroke="#0000ff" stroke-width="1.6" stroke-linecap="round" stroke-linejoin="round"/>
<path d="M700.0,442.0C701.0,439.5 704.3,440.0 706.0,440.0C707.7,440.0 709.7,440.8 710.0,442.0C710.3,443.2 709.3,445.2 708.0,447.0C706.7,448.8 703.3,451.7 702.0,453.0C700.7,454.3 700.3,456.8 700.0,455.0C699.7,453.2 699.0,444.5 700.0,442.0Z" fill="#0000ff"/>
<ellipse cx="750.0" cy="469.4" rx="17.6" ry="10.0" transform="rotate(-30 750.0 469.4)" fill="#0000ff"/>
<path d="M777.0,495.0C777.0,492.2 778.2,486.3 780.0,483.0C781.8,479.7 784.7,477.7 788.0,475.0C791.3,472.3 796.3,469.7 800.0,467.0C803.7,464.3 807.0,461.8 810.0,459.0C813.0,456.2 815.7,451.2 818.0,450.0C820.3,448.8 822.0,450.3 824.0,452.0C826.0,453.7 827.0,458.3 830.0,460.0C833.0,461.7 841.3,460.7 842.0,462.0C842.7,463.3 836.0,465.8 834.0,468.0C832.0,470.2 831.7,472.5 830.0,475.0C828.3,477.5 827.0,480.7 824.0,483.0C821.0,485.3 816.0,487.3 812.0,489.0C808.0,490.7 804.0,491.5 800.0,493.0C796.0,494.5 791.3,496.8 788.0,498.0C784.7,499.2 781.8,500.5 780.0,500.0C778.2,499.5 777.0,497.8 777.0,495.0Z" fill="#0000ff"/>
<ellipse cx="864.0" cy="431.0" rx="4.4" ry="5.6" transform="rotate(0 864.0 431.0)" fill="#0000ff"/>
<path d="M692.0,493.0C692.9,490.6 698.1,492.5 700.0,492.6C701.9,492.7 706.5,494.2 708.0,494.0C709.5,493.8 711.9,491.9 713.0,491.0C714.1,490.1 716.6,485.9 717.6,486.0C718.6,486.1 720.2,491.1 721.6,492.0C723.0,492.9 728.2,493.4 730.0,494.0C731.8,494.6 735.8,495.8 737.0,497.0C738.2,498.2 739.6,502.5 740.0,504.0C740.4,505.5 740.6,508.9 740.0,510.0C739.4,511.1 736.6,512.4 735.0,513.0C733.4,513.6 727.6,515.0 726.0,515.0C724.4,515.0 722.0,513.5 721.0,513.0C720.0,512.5 717.8,512.1 717.0,511.0C716.2,509.9 714.7,503.4 714.0,503.4C713.3,503.4 711.9,509.7 711.0,511.0C710.1,512.3 707.3,513.9 706.0,514.2C704.7,514.5 701.6,513.9 700.0,513.8C698.4,513.7 692.9,515.4 692.0,513.0C691.1,510.6 691.1,495.4 692.0,493.0Z" fill="none" stroke="#0000ff" stroke-width="3.0" stroke-linejoin="round"/>
<path d="M740.0,529.0C739.9,526.4 743.8,521.7 745.0,521.0C746.2,520.3 749.1,521.8 750.0,523.0C750.9,524.2 751.6,530.0 753.0,531.0C754.4,532.0 760.1,531.6 762.0,532.0C763.9,532.4 768.0,532.7 769.0,534.0C770.0,535.3 769.7,541.2 771.0,543.0C772.3,544.8 778.0,548.9 780.0,549.0C782.0,549.1 786.2,544.5 788.0,544.0C789.8,543.5 794.3,543.7 795.0,545.0C795.7,546.3 794.7,552.7 794.0,555.0C793.3,557.3 789.9,562.4 789.0,565.0C788.1,567.6 786.8,574.5 786.0,577.0C785.2,579.5 783.0,585.3 782.0,586.0C781.0,586.7 778.2,584.3 777.0,583.0C775.8,581.7 773.5,576.6 772.0,575.0C770.5,573.4 765.9,570.4 764.0,569.0C762.1,567.6 757.9,564.6 756.0,563.0C754.1,561.4 749.2,557.3 748.0,555.0C746.8,552.7 746.9,546.0 746.0,543.0C745.1,540.0 740.1,531.6 740.0,529.0Z" fill="#0000ff"/>
<ellipse cx="621.6" cy="627.0" rx="7.6" ry="8.4" transform="rotate(0 621.6 627.0)" fill="#0000ff"/>
<path d="M708.0,604.0C708.3,602.3 709.3,600.7 712.0,600.0C714.7,599.3 722.3,598.7 724.0,600.0C725.7,601.3 723.3,606.0 722.0,608.0C720.7,610.0 718.0,611.7 716.0,612.0C714.0,612.3 711.3,611.3 710.0,610.0C708.7,608.7 707.7,605.7 708.0,604.0Z" fill="#0000ff"/>
<path d="M735.0,604.0C735.2,602.7 734.8,600.7 738.0,600.0C741.2,599.3 750.7,599.3 754.0,600.0C757.3,600.7 756.2,603.2 758.0,604.0C759.8,604.8 763.7,603.7 765.0,605.0C766.3,606.3 766.5,609.8 766.0,612.0C765.5,614.2 763.0,615.3 762.0,618.0C761.0,620.7 761.0,625.7 760.0,628.0C759.0,630.3 757.3,632.3 756.0,632.0C754.7,631.7 752.8,628.3 752.4,626.0C752.0,623.7 753.3,620.3 753.6,618.0C753.9,615.7 754.6,613.5 754.0,612.0C753.4,610.5 752.0,609.5 750.0,609.0C748.0,608.5 744.2,609.2 742.0,609.0C739.8,608.8 738.2,608.8 737.0,608.0C735.8,607.2 734.8,605.3 735.0,604.0Z" fill="#0000ff"/>
<ellipse cx="744.4" cy="708.0" rx="6.4" ry="7.0" transform="rotate(0 744.4 708.0)" fill="#0000ff"/>
<path d="M834.0,622.0C834.0,620.6 838.4,615.4 840.0,614.0C841.6,612.6 848.0,608.9 850.0,608.0C852.0,607.1 858.9,604.4 860.0,605.0C861.1,605.6 861.0,611.9 861.0,614.0C861.0,616.1 860.2,623.6 860.0,626.0C859.8,628.4 859.5,636.9 859.0,638.0C858.5,639.1 856.1,637.6 855.0,637.0C853.9,636.4 849.5,632.9 848.0,632.0C846.5,631.1 841.4,629.0 840.0,628.0C838.6,627.0 834.0,623.4 834.0,622.0Z" fill="#0000ff"/>
<ellipse cx="916.0" cy="667.0" rx="11.0" ry="5.6" transform="rotate(-25 916.0 667.0)" fill="#0000ff"/>
<ellipse cx="919.0" cy="686.0" rx="2.0" ry="2.8" transform="rotate(0 919.0 686.0)" fill="#0000ff"/>
<ellipse cx="899.0" cy="730.0" rx="3.4" ry="5.6" transform="rotate(0 899.0 730.0)" fill="#0000ff"/>
<path d="M851.4,712.6L851.4,714.6" fill="none" stroke="#0000ff" stroke-width="1.0" stroke-linecap="round" stroke-linejoin="round"/>
<path d="M804.0,780.0C798.7,778.3 804.7,773.0 806.0,770.0C807.3,767.0 809.7,763.7 812.0,762.0C814.3,760.3 817.3,759.3 820.0,760.0C822.7,760.7 825.7,763.7 828.0,766.0C830.3,768.3 832.3,771.7 834.0,774.0C835.7,776.3 843.0,779.0 838.0,780.0C833.0,781.0 809.3,781.7 804.0,780.0Z" fill="#0000ff"/>
<path d="M834.0,762.0C834.7,760.3 837.7,759.3 840.0,760.0C842.3,760.7 845.0,765.3 848.0,766.0C851.0,766.7 855.6,763.3 858.0,764.0C860.4,764.7 861.9,767.3 862.4,770.0C862.9,772.7 865.1,778.3 861.0,780.0C856.9,781.7 842.2,781.7 838.0,780.0C833.8,778.3 836.7,773.0 836.0,770.0C835.3,767.0 833.3,763.7 834.0,762.0Z" fill="#0000ff"/>
<path d="M754.4,746.0L754.4,747.2" fill="none" stroke="#0000ff" stroke-width="1.2" stroke-linecap="round" stroke-linejoin="round"/>
<ellipse cx="929.6" cy="768.0" rx="4.4" ry="5.0" transform="rotate(0 929.6 768.0)" fill="#0000ff"/>
<path d="M776.0,782.0C776.4,781.3 778.6,780.0 780.0,780.0C781.4,780.0 786.1,781.3 788.0,782.0C789.9,782.7 794.4,785.8 796.0,786.0C797.6,786.2 801.2,785.6 802.0,784.0C802.8,782.4 802.3,774.6 803.0,772.0C803.7,769.4 806.5,763.5 808.0,762.0C809.5,760.5 814.1,759.0 816.0,759.0C817.9,759.0 822.1,761.0 824.0,762.0C825.9,763.0 830.4,767.1 832.0,768.0C833.6,768.9 837.5,770.7 838.0,770.0C838.5,769.3 835.5,763.0 836.0,762.0C836.5,761.0 840.6,760.5 842.0,761.0C843.4,761.5 846.1,765.6 848.0,766.0C849.9,766.4 856.4,763.8 858.0,764.0C859.6,764.2 861.8,766.4 862.0,768.0C862.2,769.6 860.9,775.9 860.0,778.0C859.1,780.1 855.3,784.1 854.0,786.0C852.7,787.9 849.8,791.9 849.0,794.0C848.2,796.1 846.9,801.9 847.0,804.0C847.1,806.1 849.5,809.7 850.0,812.0C850.5,814.3 856.6,822.6 851.0,824.0C845.4,825.4 807.7,825.4 802.0,824.0C796.3,822.6 802.5,814.3 802.0,812.0C801.5,809.7 799.2,805.9 798.0,804.0C796.8,802.1 793.9,797.6 792.0,796.0C790.1,794.4 783.8,791.2 782.0,790.0C780.2,788.8 777.7,786.9 777.0,786.0C776.3,785.1 775.6,782.7 776.0,782.0Z" fill="#0000ff"/>
<ellipse cx="870.0" cy="778.0" rx="5.6" ry="8.0" transform="rotate(30 870.0 778.0)" fill="#0000ff"/>
<path d="M271.0,603.3C271.2,602.2 272.1,600.4 273.7,599.7C275.2,598.9 278.8,598.6 280.3,599.0C281.8,599.4 282.7,601.2 282.7,602.3C282.7,603.4 281.4,604.9 280.3,605.7C279.3,606.4 277.7,606.9 276.3,607.0C275.0,607.1 273.2,606.9 272.3,606.3C271.4,605.7 270.8,604.4 271.0,603.3Z" fill="#0000ff"/>
<path d="M903.3,425.0L906.7,418.3L913.3,417.7L920.0,419.7L925.3,417.7L928.0,422.3L926.7,430.3L922.7,437.0L920.0,442.3L925.3,445.0L933.3,445.0L941.3,443.7L941.3,479.7L933.3,477.7L926.7,478.3L918.7,481.7L912.0,483.0L906.7,483.7L900.0,485.0L896.0,490.3L889.3,493.7L884.7,491.7L884.0,486.3L888.0,481.0L894.7,477.0L898.7,471.7L897.3,467.7L893.3,464.3L886.7,461.7L878.7,461.7L872.0,463.7L868.7,465.7L868.0,461.0L872.0,454.3L878.7,450.3L886.7,448.3L894.7,449.0L902.7,446.3L906.7,442.3L905.3,435.7L902.7,430.3L903.3,425.0" fill="none" stroke="#0000ff" stroke-width="3.5" stroke-linecap="round" stroke-linejoin="round"/>
<path d="M903.3,425.0C903.8,423.6 905.5,419.2 906.7,418.3C907.8,417.5 911.8,417.5 913.3,417.7C914.9,417.8 918.6,419.7 920.0,419.7C921.4,419.7 924.4,417.4 925.3,417.7C926.3,418.0 927.8,420.9 928.0,422.3C928.2,423.8 927.3,428.6 926.7,430.3C926.0,432.0 923.4,435.6 922.7,437.0C921.9,438.4 919.7,441.4 920.0,442.3C920.3,443.3 923.8,444.7 925.3,445.0C926.9,445.3 931.5,445.2 933.3,445.0C935.2,444.8 940.4,439.6 941.3,443.7C942.3,447.7 942.3,475.7 941.3,479.7C940.4,483.6 935.0,477.8 933.3,477.7C931.6,477.5 928.4,477.9 926.7,478.3C925.0,478.8 920.4,481.1 918.7,481.7C917.0,482.2 913.4,482.8 912.0,483.0C910.6,483.2 908.1,483.4 906.7,483.7C905.3,483.9 901.2,484.2 900.0,485.0C898.8,485.8 897.2,489.3 896.0,490.3C894.8,491.3 890.7,493.5 889.3,493.7C888.0,493.8 885.3,492.5 884.7,491.7C884.0,490.8 883.6,487.6 884.0,486.3C884.4,485.1 886.8,482.1 888.0,481.0C889.2,479.9 893.4,478.1 894.7,477.0C895.9,475.9 898.4,472.8 898.7,471.7C899.0,470.6 898.0,468.5 897.3,467.7C896.7,466.8 894.6,465.0 893.3,464.3C892.1,463.6 888.4,462.0 886.7,461.7C885.0,461.4 880.4,461.4 878.7,461.7C877.0,461.9 873.2,463.2 872.0,463.7C870.8,464.1 869.1,466.0 868.7,465.7C868.2,465.4 867.6,462.3 868.0,461.0C868.4,459.7 870.8,455.6 872.0,454.3C873.2,453.1 877.0,451.0 878.7,450.3C880.4,449.6 884.8,448.5 886.7,448.3C888.5,448.2 892.8,449.2 894.7,449.0C896.5,448.8 901.3,447.1 902.7,446.3C904.1,445.6 906.4,443.6 906.7,442.3C907.0,441.1 905.8,437.1 905.3,435.7C904.9,434.3 902.9,431.6 902.7,430.3C902.4,429.1 902.9,426.4 903.3,425.0Z" fill="#0000ff"/>
<path d="M672.7,364.0L682.7,354.7" fill="none" stroke="#3399ff" stroke-width="3.7" stroke-linecap="round" stroke-linejoin="round"/>
<path d="M622.7,326.7L628.0,324.7L632.7,326.7" fill="none" stroke="#3399ff" stroke-width="4.0" stroke-linecap="round" stroke-linejoin="round"/>
<path d="M644.7,362.7C644.8,360.7 646.3,358.4 648.7,356.0C651.0,353.6 656.6,348.4 658.7,348.0C660.8,347.6 659.6,352.4 661.3,353.3C663.1,354.2 666.4,354.1 669.3,353.3C672.2,352.6 678.0,348.2 678.7,348.7C679.3,349.1 675.1,353.4 673.3,356.0C671.6,358.6 669.6,361.7 668.0,364.0C666.4,366.3 666.0,368.9 664.0,370.0C662.0,371.1 658.7,371.0 656.0,370.7C653.3,370.3 649.9,369.3 648.0,368.0C646.1,366.7 644.6,364.7 644.7,362.7Z" fill="#00ff00"/>
<path d="M661.3,381.3C661.3,380.0 662.0,378.0 664.0,376.0C666.0,374.0 670.4,371.3 673.3,369.3C676.2,367.3 679.1,365.8 681.3,364.0C683.6,362.2 685.6,361.1 686.7,358.7C687.8,356.2 687.1,352.0 688.0,349.3C688.9,346.7 690.0,344.9 692.0,342.7C694.0,340.4 696.7,337.9 700.0,336.0C703.3,334.1 709.3,331.6 712.0,331.3C714.7,331.1 715.8,332.6 716.0,334.7C716.2,336.8 713.6,341.1 713.3,344.0C713.1,346.9 713.6,350.0 714.7,352.0C715.8,354.0 719.8,354.2 720.0,356.0C720.2,357.8 717.6,360.7 716.0,362.7C714.4,364.7 712.4,366.2 710.7,368.0C708.9,369.8 708.0,371.8 705.3,373.3C702.7,374.9 698.7,376.2 694.7,377.3C690.7,378.4 685.3,379.0 681.3,380.0C677.3,381.0 673.6,382.7 670.7,383.3C667.8,384.0 665.6,384.3 664.0,384.0C662.4,383.7 661.3,382.7 661.3,381.3Z" fill="#00ff00"/>
<path d="M722.0,352.0C721.6,350.9 724.2,345.4 725.3,344.0C726.5,342.6 732.6,337.9 733.3,338.0C734.1,338.1 732.5,343.8 732.7,345.3C732.9,346.9 735.7,352.4 735.3,353.3C735.0,354.3 730.7,354.8 729.3,354.7C728.0,354.5 722.4,353.1 722.0,352.0Z" fill="#00ff00"/>
<path d="M660.7,342.7C660.5,342.1 660.9,339.9 661.3,339.3C661.8,338.8 663.2,338.8 663.3,339.3C663.5,339.9 662.8,342.1 662.4,342.7C662.0,343.2 660.8,343.2 660.7,342.7Z" fill="#00ff00"/>
<path d="M695.3,413.3C695.9,411.6 697.7,409.1 700.0,406.7C702.3,404.2 706.2,402.0 709.3,398.7C712.4,395.3 715.8,389.9 718.7,386.7C721.6,383.4 723.6,382.0 726.7,379.3C729.8,376.7 734.0,373.7 737.3,370.7C740.7,367.7 744.1,363.7 746.7,361.3C749.2,359.0 751.3,357.1 752.7,356.7C754.0,356.2 754.8,357.2 754.7,358.7C754.6,360.1 753.8,362.9 752.0,365.3C750.2,367.8 746.9,370.7 744.0,373.3C741.1,376.0 737.3,379.1 734.7,381.3C732.0,383.6 730.0,384.2 728.0,386.7C726.0,389.1 724.4,392.7 722.7,396.0C720.9,399.3 719.3,403.6 717.3,406.7C715.3,409.8 713.1,412.7 710.7,414.7C708.2,416.7 705.0,418.2 702.7,418.7C700.3,419.1 697.9,418.2 696.7,417.3C695.4,416.4 694.8,415.1 695.3,413.3Z" fill="#00ff00"/>
<path d="M736.7,410.0L752.0,400.0" fill="none" stroke="#00ff00" stroke-width="4.3" stroke-linecap="round" stroke-linejoin="round"/>
<path d="M634.4,317.3L636.7,317.3" fill="none" stroke="#00ff00" stroke-width="0.8" stroke-linecap="round" stroke-linejoin="round"/>
<path d="M613.0,323.0L618.0,320.4" fill="none" stroke="#00ff00" stroke-width="3.2" stroke-linecap="round" stroke-linejoin="round"/>
<path d="M635.0,317.6L637.0,317.6" fill="none" stroke="#00ff00" stroke-width="1.0" stroke-linecap="round" stroke-linejoin="round"/>
<path d="M563.0,396.0C563.3,394.3 564.7,391.8 566.0,391.0C567.3,390.2 570.1,389.8 571.0,391.0C571.9,392.2 572.1,395.9 571.6,398.0C571.1,400.1 569.2,403.1 568.0,403.6C566.8,404.1 565.2,402.3 564.4,401.0C563.6,399.7 562.7,397.7 563.0,396.0Z" fill="#00ff00"/>
<path d="M529.0,420.4C529.8,418.7 533.3,416.3 536.0,415.0C538.7,413.7 542.4,412.5 545.0,412.4C547.6,412.3 550.3,413.3 551.6,414.4C552.9,415.5 553.6,417.4 553.0,419.0C552.4,420.6 550.5,422.7 548.0,424.0C545.5,425.3 540.8,426.4 538.0,426.6C535.2,426.8 532.5,426.0 531.0,425.0C529.5,424.0 528.2,422.1 529.0,420.4Z" fill="#00ff00"/>
<ellipse cx="836.6" cy="399.0" rx="3.6" ry="7.0" transform="rotate(10 836.6 399.0)" fill="#00ff00"/>
<path d="M722.0,349.0C722.0,347.9 725.0,343.1 726.0,342.0C727.0,340.9 731.3,337.8 732.0,338.0C732.7,338.2 732.6,342.6 733.0,344.0C733.4,345.4 736.1,350.9 736.0,352.0C735.9,353.1 733.0,354.9 732.0,355.0C731.0,355.1 727.0,353.6 726.0,353.0C725.0,352.4 722.0,350.1 722.0,349.0Z" fill="#00ff00"/>
<path d="M904.0,422.0C905.7,420.2 910.7,419.7 914.0,419.0C917.3,418.3 921.7,417.5 924.0,418.0C926.3,418.5 927.5,420.0 928.0,422.0C928.5,424.0 931.0,428.7 927.0,430.0C923.0,431.3 907.8,431.3 904.0,430.0C900.2,428.7 902.3,423.8 904.0,422.0Z" fill="#00ff00"/>
<path d="M544.4,439.4C544.8,437.9 546.2,436.0 548.0,434.6C549.8,433.2 552.3,431.7 555.0,431.0C557.7,430.3 560.7,430.3 564.0,430.4C567.3,430.5 572.2,430.8 575.0,431.6C577.8,432.4 579.9,433.8 581.0,435.0C582.1,436.2 582.1,437.3 581.6,438.6C581.1,439.9 579.8,441.5 578.0,443.0C576.2,444.5 573.3,445.7 571.0,447.4C568.7,449.1 566.2,451.8 564.0,453.0C561.8,454.2 559.4,455.2 558.0,454.6C556.6,454.0 556.9,450.8 555.6,449.4C554.3,448.0 551.7,447.0 550.0,446.0C548.3,445.0 546.5,444.7 545.6,443.6C544.7,442.5 544.0,440.9 544.4,439.4Z" fill="#00ff00"/>
<ellipse cx="612.0" cy="467.6" rx="4.8" ry="3.2" transform="rotate(0 612.0 467.6)" fill="#00ff00"/>
<path d="M627.6,478.0C627.8,477.0 629.4,473.8 631.0,472.6C632.6,471.4 638.5,468.9 641.0,468.0C643.5,467.1 649.7,465.5 652.0,465.0C654.3,464.5 659.5,463.8 661.0,464.0C662.5,464.2 664.3,465.7 665.0,467.0C665.7,468.3 665.6,474.2 667.0,475.0C668.4,475.8 675.2,474.0 677.0,474.0C678.8,474.0 681.5,474.2 682.4,475.4C683.3,476.6 684.5,482.2 685.0,484.0C685.5,485.8 685.6,489.5 686.6,490.4C687.6,491.3 691.8,491.1 693.4,491.4C695.0,491.7 698.5,492.9 700.0,493.0C701.5,493.1 705.0,493.0 706.6,492.4C708.2,491.8 712.1,488.5 713.4,487.6C714.7,486.7 716.5,485.0 717.4,485.0C718.3,485.0 720.5,486.8 721.4,487.6C722.3,488.4 724.5,491.0 725.4,491.6C726.3,492.2 728.6,490.3 729.0,493.0C729.4,495.7 730.0,511.9 729.0,514.4C728.0,516.9 721.5,514.8 720.0,514.4C718.5,514.0 717.1,512.2 716.4,511.0C715.7,509.8 714.6,504.0 714.0,504.0C713.4,504.0 712.5,509.6 711.6,511.0C710.7,512.4 708.0,515.4 706.6,515.6C705.2,515.8 701.2,513.9 700.0,513.0C698.8,512.1 696.9,509.0 696.0,508.0C695.1,507.0 693.3,504.4 692.4,504.6C691.5,504.8 689.7,509.6 688.0,510.0C686.3,510.4 680.3,508.1 678.0,508.0C675.7,507.9 669.9,509.1 668.0,509.0C666.1,508.9 663.0,508.1 662.0,507.0C661.0,505.9 660.2,501.9 659.0,500.0C657.8,498.1 654.1,492.6 652.0,491.0C649.9,489.4 643.2,487.5 641.0,486.6C638.8,485.7 634.4,483.7 633.0,483.0C631.6,482.3 629.6,481.6 629.0,481.0C628.4,480.4 627.4,479.0 627.6,478.0Z" fill="#00ff00"/>
<path d="M692.0,455.0L699.0,449.0L707.0,444.0" fill="none" stroke="#00ff00" stroke-width="4.4" stroke-linecap="round" stroke-linejoin="round"/>
<path d="M713.0,605.0C712.2,604.5 713.8,602.8 715.0,602.0C716.2,601.2 719.2,599.5 720.0,600.0C720.8,600.5 721.2,604.2 720.0,605.0C718.8,605.8 713.8,605.5 713.0,605.0Z" fill="#00ff00"/>
<path d="M700.0,444.0C700.9,442.3 704.2,442.1 705.6,442.0C707.0,441.9 708.3,442.5 708.4,443.4C708.5,444.3 707.1,446.1 706.0,447.4C704.9,448.7 702.6,450.2 701.6,451.0C700.6,451.8 700.3,453.2 700.0,452.0C699.7,450.8 699.1,445.7 700.0,444.0Z" fill="#00ff00"/>
<ellipse cx="750.0" cy="469.4" rx="15.0" ry="8.0" transform="rotate(-30 750.0 469.4)" fill="#00ff00"/>
<path d="M780.0,494.0C780.0,492.4 780.8,486.1 782.0,484.0C783.2,481.9 787.8,477.8 790.0,476.0C792.2,474.2 798.5,470.8 801.0,469.0C803.5,467.2 808.9,463.0 811.0,461.0C813.1,459.0 817.6,452.8 819.0,452.0C820.4,451.2 822.0,452.9 823.0,454.0C824.0,455.1 827.1,459.6 828.0,461.0C828.9,462.4 831.0,464.7 831.0,466.0C831.0,467.3 829.3,471.5 828.0,472.0C826.7,472.5 820.7,469.4 820.0,470.0C819.3,470.6 822.2,475.5 822.0,477.0C821.8,478.5 819.4,481.8 818.0,483.0C816.6,484.2 812.1,486.1 810.0,487.0C807.9,487.9 802.5,489.9 800.0,491.0C797.5,492.1 791.1,495.2 789.0,496.0C786.9,496.8 783.0,498.2 782.0,498.0C781.0,497.8 780.0,495.6 780.0,494.0Z" fill="#00ff00"/>
<ellipse cx="864.0" cy="431.4" rx="1.2" ry="1.2" transform="rotate(0 864.0 431.4)" fill="#00ff00"/>
<path d="M692.0,493.0C692.9,490.6 698.1,492.5 700.0,492.6C701.9,492.7 706.5,494.2 708.0,494.0C709.5,493.8 711.9,491.9 713.0,491.0C714.1,490.1 716.6,485.9 717.6,486.0C718.6,486.1 720.2,491.1 721.6,492.0C723.0,492.9 728.2,493.4 730.0,494.0C731.8,494.6 735.8,495.8 737.0,497.0C738.2,498.2 739.6,502.5 740.0,504.0C740.4,505.5 740.6,508.9 740.0,510.0C739.4,511.1 736.6,512.4 735.0,513.0C733.4,513.6 727.6,515.0 726.0,515.0C724.4,515.0 722.0,513.5 721.0,513.0C720.0,512.5 717.8,512.1 717.0,511.0C716.2,509.9 714.7,503.4 714.0,503.4C713.3,503.4 711.9,509.7 711.0,511.0C710.1,512.3 707.3,513.9 706.0,514.2C704.7,514.5 701.6,513.9 700.0,513.8C698.4,513.7 692.9,515.4 692.0,513.0C691.1,510.6 691.1,495.4 692.0,493.0Z" fill="#00ff00"/>
<path d="M741.6,529.0C741.3,527.1 744.7,523.5 745.6,523.0C746.5,522.5 748.3,523.8 749.0,525.0C749.7,526.2 750.2,532.0 751.6,533.0C753.0,534.0 759.1,533.6 761.0,534.0C762.9,534.4 766.7,534.8 767.6,536.0C768.5,537.2 769.4,542.4 769.0,544.0C768.6,545.6 765.5,548.8 764.0,550.0C762.5,551.2 757.6,554.1 756.0,554.0C754.4,553.9 750.9,550.8 750.0,549.0C749.1,547.2 749.0,541.3 748.0,539.0C747.0,536.7 741.9,530.9 741.6,529.0Z" fill="#00ff00"/>
<path d="M761.0,558.0C761.1,556.6 764.2,553.7 766.0,553.0C767.8,552.3 773.9,552.5 776.0,552.0C778.1,551.5 782.4,549.8 784.0,549.0C785.6,548.2 788.9,545.2 790.0,545.0C791.1,544.8 793.4,545.8 793.6,547.0C793.8,548.2 792.8,552.9 792.0,555.0C791.2,557.1 787.8,562.7 787.0,565.0C786.2,567.3 785.7,572.9 785.0,575.0C784.3,577.1 781.9,582.5 781.0,583.0C780.1,583.5 777.9,580.3 777.0,579.0C776.1,577.7 774.4,573.6 773.0,572.0C771.6,570.4 766.4,566.6 765.0,565.0C763.6,563.4 760.9,559.4 761.0,558.0Z" fill="#00ff00"/>
<path d="M712.0,605.0C710.8,604.3 713.7,601.7 715.0,601.0C716.3,600.3 718.8,600.3 720.0,601.0C721.2,601.7 723.3,604.3 722.0,605.0C720.7,605.7 713.2,605.7 712.0,605.0Z" fill="#00ff00"/>
<path d="M737.0,605.0C735.3,604.3 738.3,601.7 740.0,601.0C741.7,600.3 745.3,599.9 747.0,600.6C748.7,601.3 751.7,604.3 750.0,605.0C748.3,605.7 738.7,605.7 737.0,605.0Z" fill="#00ff00"/>
<ellipse cx="621.6" cy="627.0" rx="6.4" ry="7.2" transform="rotate(0 621.6 627.0)" fill="#00ff00"/>
<ellipse cx="717.0" cy="605.0" rx="5.6" ry="6.4" transform="rotate(0 717.0 605.0)" fill="#00ff00"/>
<ellipse cx="744.4" cy="603.0" rx="7.0" ry="4.0" transform="rotate(0 744.4 603.0)" fill="#00ff00"/>
<ellipse cx="760.0" cy="610.0" rx="3.6" ry="5.0" transform="rotate(20 760.0 610.0)" fill="#00ff00"/>
<ellipse cx="757.0" cy="623.0" rx="2.6" ry="5.6" transform="rotate(0 757.0 623.0)" fill="#00ff00"/>
<ellipse cx="744.4" cy="708.0" rx="4.8" ry="5.2" transform="rotate(0 744.4 708.0)" fill="#00ff00"/>
<path d="M836.0,622.0C836.0,620.8 840.5,616.2 842.0,615.0C843.5,613.8 849.3,610.7 851.0,610.0C852.7,609.3 858.2,607.0 859.0,607.6C859.8,608.2 859.5,614.2 859.4,616.0C859.3,617.8 858.3,624.3 858.0,626.0C857.7,627.7 856.8,632.6 856.0,633.0C855.2,633.4 851.4,630.6 850.0,630.0C848.6,629.4 843.4,627.8 842.0,627.0C840.6,626.2 836.0,623.2 836.0,622.0Z" fill="#00ff00"/>
<ellipse cx="915.6" cy="667.2" rx="9.0" ry="4.0" transform="rotate(-25 915.6 667.2)" fill="#00ff00"/>
<ellipse cx="899.0" cy="730.0" rx="1.6" ry="3.0" transform="rotate(0 899.0 730.0)" fill="#00ff00"/>
<path d="M806.0,780.0C801.7,778.5 806.8,773.7 808.0,771.0C809.2,768.3 811.0,765.4 813.0,764.0C815.0,762.6 817.7,761.8 820.0,762.4C822.3,763.0 825.0,765.5 827.0,767.6C829.0,769.7 830.8,772.9 832.0,775.0C833.2,777.1 838.3,779.2 834.0,780.0C829.7,780.8 810.3,781.5 806.0,780.0Z" fill="#00ff00"/>
<path d="M840.0,766.0C840.7,764.8 844.0,764.7 846.0,765.0C848.0,765.3 850.0,767.8 852.0,768.0C854.0,768.2 856.7,765.3 858.0,766.0C859.3,766.7 860.0,769.7 860.0,772.0C860.0,774.3 860.7,778.7 858.0,780.0C855.3,781.3 846.7,781.3 844.0,780.0C841.3,778.7 842.7,774.3 842.0,772.0C841.3,769.7 839.3,767.2 840.0,766.0Z" fill="#00ff00"/>
<path d="M866.0,780.0C865.7,779.0 868.7,775.2 870.0,774.0C871.3,772.8 873.2,772.3 874.0,773.0C874.8,773.7 875.3,776.8 875.0,778.0C874.7,779.2 873.5,779.7 872.0,780.0C870.5,780.3 866.3,781.0 866.0,780.0Z" fill="#00ff00"/>
<ellipse cx="929.6" cy="768.0" rx="3.0" ry="3.6" transform="rotate(0 929.6 768.0)" fill="#00ff00"/>
<path d="M777.6,782.4C777.8,781.9 779.8,780.9 781.0,781.0C782.2,781.1 786.2,782.2 788.0,783.0C789.8,783.8 794.1,786.7 796.0,788.0C797.9,789.3 802.6,794.0 804.0,794.0C805.4,794.0 808.0,789.2 808.0,788.0C808.0,786.8 804.4,785.6 804.0,784.0C803.6,782.4 804.4,776.2 805.0,774.0C805.6,771.8 807.7,766.5 809.0,765.0C810.3,763.5 814.4,761.2 816.0,761.0C817.6,760.8 821.6,762.6 823.0,763.6C824.4,764.6 826.5,768.8 828.0,770.0C829.5,771.2 834.2,773.2 836.0,774.0C837.8,774.8 842.5,777.7 843.0,777.0C843.5,776.3 839.9,769.5 840.0,768.0C840.1,766.5 842.6,764.4 844.0,764.0C845.4,763.6 850.2,764.9 852.0,765.0C853.8,765.1 858.1,764.4 859.0,765.0C859.9,765.6 860.1,768.5 860.0,770.0C859.9,771.5 858.9,776.1 858.0,778.0C857.1,779.9 853.2,784.2 852.0,786.0C850.8,787.8 848.8,790.9 848.0,793.0C847.2,795.1 845.0,801.8 845.0,804.0C845.0,806.2 847.5,809.7 848.0,812.0C848.5,814.3 854.1,822.6 849.0,824.0C843.9,825.4 809.2,825.4 804.0,824.0C798.8,822.6 804.5,814.3 804.0,812.0C803.5,809.7 801.2,805.8 800.0,804.0C798.8,802.2 796.0,798.8 794.0,797.0C792.0,795.2 784.8,790.4 783.0,789.0C781.2,787.6 779.6,785.8 779.0,785.0C778.4,784.2 777.4,782.9 777.6,782.4Z" fill="#00ff00"/>
<ellipse cx="870.4" cy="778.0" rx="3.0" ry="6.0" transform="rotate(30 870.4 778.0)" fill="#00ff00"/>
<path d="M274.0,603.3C274.0,603.1 276.1,601.4 276.3,601.3C276.6,601.3 277.1,602.3 277.3,602.3C277.6,602.4 279.8,602.4 280.0,602.5C280.2,602.6 279.8,603.5 279.7,603.7C279.5,603.8 277.6,604.6 277.3,604.7C277.1,604.7 276.2,604.4 276.0,604.3C275.8,604.2 274.0,603.5 274.0,603.3Z" fill="#00ff00"/>
<path d="M903.3,425.0C903.8,423.6 905.5,419.2 906.7,418.3C907.8,417.5 911.8,417.5 913.3,417.7C914.9,417.8 918.6,419.7 920.0,419.7C921.4,419.7 924.4,417.4 925.3,417.7C926.3,418.0 927.8,420.9 928.0,422.3C928.2,423.8 927.3,428.6 926.7,430.3C926.0,432.0 923.4,435.6 922.7,437.0C921.9,438.4 919.7,441.4 920.0,442.3C920.3,443.3 923.8,444.7 925.3,445.0C926.9,445.3 931.5,445.2 933.3,445.0C935.2,444.8 940.4,439.6 941.3,443.7C942.3,447.7 942.3,475.7 941.3,479.7C940.4,483.6 935.0,477.8 933.3,477.7C931.6,477.5 928.4,477.9 926.7,478.3C925.0,478.8 920.4,481.1 918.7,481.7C917.0,482.2 913.4,482.8 912.0,483.0C910.6,483.2 908.1,483.4 906.7,483.7C905.3,483.9 901.2,484.2 900.0,485.0C898.8,485.8 897.2,489.3 896.0,490.3C894.8,491.3 890.7,493.5 889.3,493.7C888.0,493.8 885.3,492.5 884.7,491.7C884.0,490.8 883.6,487.6 884.0,486.3C884.4,485.1 886.8,482.1 888.0,481.0C889.2,479.9 893.4,478.1 894.7,477.0C895.9,475.9 898.4,472.8 898.7,471.7C899.0,470.6 898.0,468.5 897.3,467.7C896.7,466.8 894.6,465.0 893.3,464.3C892.1,463.6 888.4,462.0 886.7,461.7C885.0,461.4 880.4,461.4 878.7,461.7C877.0,461.9 873.2,463.2 872.0,463.7C870.8,464.1 869.1,466.0 868.7,465.7C868.2,465.4 867.6,462.3 868.0,461.0C868.4,459.7 870.8,455.6 872.0,454.3C873.2,453.1 877.0,451.0 878.7,450.3C880.4,449.6 884.8,448.5 886.7,448.3C888.5,448.2 892.8,449.2 894.7,449.0C896.5,448.8 901.3,447.1 902.7,446.3C904.1,445.6 906.4,443.6 906.7,442.3C907.0,441.1 905.8,437.1 905.3,435.7C904.9,434.3 902.9,431.6 902.7,430.3C902.4,429.1 902.9,426.4 903.3,425.0Z" fill="#00ff00"/>
<path d="M648.7,361.3C649.1,359.7 651.7,356.0 653.3,355.3C655.0,354.7 656.7,356.6 658.7,357.3C660.7,358.1 664.4,358.7 665.3,360.0C666.2,361.3 665.3,364.2 664.0,365.3C662.7,366.4 659.6,366.7 657.3,366.7C655.1,366.7 652.1,366.2 650.7,365.3C649.2,364.4 648.2,363.0 648.7,361.3Z" fill="#00cc00"/>
<path d="M666.7,378.7C666.7,377.6 670.7,375.3 673.3,373.3C676.0,371.3 680.0,369.1 682.7,366.7C685.3,364.2 687.8,362.2 689.3,358.7C690.9,355.1 690.2,348.7 692.0,345.3C693.8,342.0 696.9,340.2 700.0,338.7C703.1,337.1 708.9,335.1 710.7,336.0C712.4,336.9 710.9,341.6 710.7,344.0C710.4,346.4 708.9,348.4 709.3,350.7C709.8,352.9 713.6,354.7 713.3,357.3C713.1,360.0 710.2,364.2 708.0,366.7C705.8,369.1 703.6,370.4 700.0,372.0C696.4,373.6 691.1,374.7 686.7,376.0C682.2,377.3 676.7,379.6 673.3,380.0C670.0,380.4 666.7,379.8 666.7,378.7Z" fill="#00cc00"/>
<path d="M701.3,412.0C701.8,410.4 704.2,408.0 706.7,405.3C709.1,402.7 713.3,399.3 716.0,396.0C718.7,392.7 720.2,388.0 722.7,385.3C725.1,382.7 730.0,379.6 730.7,380.0C731.3,380.4 728.2,385.3 726.7,388.0C725.1,390.7 723.1,392.9 721.3,396.0C719.6,399.1 718.0,403.8 716.0,406.7C714.0,409.6 711.3,412.0 709.3,413.3C707.3,414.7 705.3,414.9 704.0,414.7C702.7,414.4 700.9,413.6 701.3,412.0Z" fill="#00cc00"/>
<path d="M740.0,372.0L749.3,364.0" fill="none" stroke="#00cc00" stroke-width="1.3" stroke-linecap="round" stroke-linejoin="round"/>
<path d="M740.0,407.3L748.0,402.7" fill="none" stroke="#00cc00" stroke-width="1.6" stroke-linecap="round" stroke-linejoin="round"/>
<path d="M532.4,420.4C533.2,419.1 536.7,417.0 539.0,416.0C541.3,415.0 544.2,414.2 546.0,414.4C547.8,414.6 549.7,415.7 550.0,417.0C550.3,418.3 549.7,420.8 548.0,422.0C546.3,423.2 542.3,424.1 540.0,424.4C537.7,424.7 535.3,424.3 534.0,423.6C532.7,422.9 531.6,421.7 532.4,420.4Z" fill="#00cc00"/>
<path d="M907.0,426.0C908.3,424.7 913.5,422.3 916.0,422.0C918.5,421.7 920.7,422.7 922.0,424.0C923.3,425.3 926.3,429.0 924.0,430.0C921.7,431.0 910.8,430.7 908.0,430.0C905.2,429.3 905.7,427.3 907.0,426.0Z" fill="#00cc00"/>
<path d="M555.0,438.0L564.0,436.6L572.0,437.0" fill="none" stroke="#00cc00" stroke-width="4.4" stroke-linecap="round" stroke-linejoin="round"/>
<path d="M631.0,477.4C631.0,476.1 633.0,474.2 635.0,473.0C637.0,471.8 640.8,470.0 643.0,470.0C645.2,470.0 646.8,471.2 648.0,473.0C649.2,474.8 648.7,479.0 650.0,481.0C651.3,483.0 654.3,483.0 656.0,485.0C657.7,487.0 657.7,491.0 660.0,493.0C662.3,495.0 666.7,496.7 670.0,497.0C673.3,497.3 677.3,494.3 680.0,495.0C682.7,495.7 685.3,499.2 686.0,501.0C686.7,502.8 685.3,505.2 684.0,506.0C682.7,506.8 680.7,505.8 678.0,506.0C675.3,506.2 670.5,507.3 668.0,507.0C665.5,506.7 664.3,505.5 663.0,504.0C661.7,502.5 661.5,500.2 660.0,498.0C658.5,495.8 656.7,493.2 654.0,491.0C651.3,488.8 647.2,486.7 644.0,485.0C640.8,483.3 637.2,482.3 635.0,481.0C632.8,479.7 631.0,478.7 631.0,477.4Z" fill="#00cc00"/>
<ellipse cx="704.0" cy="503.0" rx="6.0" ry="8.0" transform="rotate(0 704.0 503.0)" fill="#00cc00"/>
<ellipse cx="750.0" cy="469.4" rx="11.0" ry="5.6" transform="rotate(-30 750.0 469.4)" fill="#00cc00"/>
<path d="M784.0,491.0C783.3,489.7 784.3,486.3 786.0,484.0C787.7,481.7 791.0,479.2 794.0,477.0C797.0,474.8 801.0,473.0 804.0,471.0C807.0,469.0 809.7,467.3 812.0,465.0C814.3,462.7 816.3,458.0 818.0,457.0C819.7,456.0 821.0,457.7 822.0,459.0C823.0,460.3 824.7,463.3 824.0,465.0C823.3,466.7 819.3,467.0 818.0,469.0C816.7,471.0 817.3,474.5 816.0,477.0C814.7,479.5 812.7,482.2 810.0,484.0C807.3,485.8 803.3,486.7 800.0,488.0C796.7,489.3 792.7,491.5 790.0,492.0C787.3,492.5 784.7,492.3 784.0,491.0Z" fill="#00cc00"/>
<path d="M721.0,499.0C721.3,496.8 723.2,494.8 725.0,494.0C726.8,493.2 730.0,493.3 732.0,494.0C734.0,494.7 735.9,496.2 737.0,498.0C738.1,499.8 738.7,503.0 738.4,505.0C738.1,507.0 736.7,509.0 735.0,510.0C733.3,511.0 730.0,511.5 728.0,511.0C726.0,510.5 724.2,509.0 723.0,507.0C721.8,505.0 720.7,501.2 721.0,499.0Z" fill="#00cc00"/>
<ellipse cx="704.0" cy="503.0" rx="5.0" ry="7.0" transform="rotate(0 704.0 503.0)" fill="#00cc00"/>
<ellipse cx="758.0" cy="541.0" rx="8.0" ry="7.0" transform="rotate(0 758.0 541.0)" fill="#00cc00"/>
<ellipse cx="775.0" cy="563.0" rx="9.0" ry="8.0" transform="rotate(0 775.0 563.0)" fill="#00cc00"/>
<ellipse cx="622.0" cy="627.0" rx="4.4" ry="5.2" transform="rotate(0 622.0 627.0)" fill="#00cc00"/>
<path d="M838.0,621.0C837.7,619.9 842.6,617.0 844.0,616.0C845.4,615.0 850.6,611.6 852.0,611.0C853.4,610.4 857.4,609.3 858.0,610.0C858.6,610.7 858.2,616.4 858.0,618.0C857.8,619.6 856.5,624.8 856.0,626.0C855.5,627.2 853.9,629.9 853.0,630.0C852.1,630.1 848.5,627.9 847.0,627.0C845.5,626.1 838.3,622.1 838.0,621.0Z" fill="#00cc00"/>
<ellipse cx="745.0" cy="603.0" rx="4.0" ry="2.0" transform="rotate(0 745.0 603.0)" fill="#00cc00"/>
<ellipse cx="917.0" cy="666.0" rx="5.0" ry="2.0" transform="rotate(-25 917.0 666.0)" fill="#00cc00"/>
<ellipse cx="744.4" cy="708.0" rx="2.4" ry="2.4" transform="rotate(0 744.4 708.0)" fill="#00cc00"/>
<path d="M809.0,778.0C809.3,776.3 809.8,772.2 811.0,770.0C812.2,767.8 814.2,765.7 816.0,765.0C817.8,764.3 820.3,764.8 822.0,766.0C823.7,767.2 825.0,769.7 826.0,772.0C827.0,774.3 830.8,778.7 828.0,780.0C825.2,781.3 812.2,780.3 809.0,780.0C805.8,779.7 808.7,779.7 809.0,778.0Z" fill="#00cc00"/>
<path d="M846.0,770.0C846.7,768.3 850.5,768.3 852.0,770.0C853.5,771.7 855.7,778.3 855.0,780.0C854.3,781.7 849.5,781.7 848.0,780.0C846.5,778.3 845.3,771.7 846.0,770.0Z" fill="#00cc00"/>
<path d="M782.0,785.0C782.5,784.6 787.9,785.2 790.0,786.0C792.1,786.8 797.9,790.4 800.0,792.0C802.1,793.6 805.7,798.8 808.0,800.0C810.3,801.2 817.4,802.7 820.0,802.0C822.6,801.3 827.9,795.9 830.0,794.0C832.1,792.1 836.1,787.6 838.0,786.0C839.9,784.4 844.1,781.6 846.0,780.0C847.9,778.4 852.6,773.2 854.0,772.0C855.4,770.8 857.6,769.3 858.0,770.0C858.4,770.7 857.9,776.1 857.0,778.0C856.1,779.9 851.3,784.1 850.0,786.0C848.7,787.9 846.8,791.9 846.0,794.0C845.2,796.1 843.1,801.7 843.0,804.0C842.9,806.3 844.5,811.7 845.0,814.0C845.5,816.3 851.5,822.8 847.0,824.0C842.5,825.2 810.8,825.4 806.0,824.0C801.2,822.6 806.5,814.3 806.0,812.0C805.5,809.7 803.4,806.1 802.0,804.0C800.6,801.9 795.9,795.8 794.0,794.0C792.1,792.2 787.4,790.0 786.0,789.0C784.6,788.0 781.5,785.4 782.0,785.0Z" fill="#00cc00"/>
<path d="M807.0,768.0C807.5,765.9 809.8,764.4 812.0,763.6C814.2,762.8 817.8,762.4 820.0,763.0C822.2,763.6 823.7,765.2 825.0,767.0C826.3,768.8 826.2,772.2 828.0,774.0C829.8,775.8 835.7,776.3 836.0,778.0C836.3,779.7 832.0,783.7 830.0,784.0C828.0,784.3 826.3,781.0 824.0,780.0C821.7,779.0 818.5,778.7 816.0,778.0C813.5,777.3 810.5,777.7 809.0,776.0C807.5,774.3 806.5,770.1 807.0,768.0Z" fill="#00cc00"/>
<path d="M906.0,426.3C906.6,424.7 907.9,422.7 909.3,421.7C910.8,420.7 912.9,420.2 914.7,420.3C916.4,420.4 918.3,422.1 920.0,422.3C921.7,422.6 923.8,421.0 924.7,421.7C925.6,422.3 925.7,424.4 925.3,426.3C925.0,428.2 923.8,431.0 922.7,433.0C921.6,435.0 920.2,437.2 918.7,438.3C917.1,439.4 915.1,440.1 913.3,439.7C911.6,439.2 909.2,437.0 908.0,435.7C906.8,434.3 906.3,433.2 906.0,431.7C905.7,430.1 905.4,428.0 906.0,426.3Z" fill="#00cc00"/>
<path d="M872.0,458.3C872.5,457.4 875.8,454.4 877.3,453.7C878.9,452.9 883.5,451.8 885.3,451.7C887.2,451.5 891.3,452.5 893.3,452.3C895.4,452.2 900.6,450.8 902.7,450.3C904.7,449.9 908.6,448.5 910.7,448.3C912.7,448.2 917.8,448.9 920.0,449.0C922.2,449.1 926.8,449.2 929.3,449.0C931.8,448.8 939.9,444.4 941.3,447.7C942.7,450.9 942.4,473.7 941.3,477.0C940.2,480.3 934.0,475.7 932.0,475.7C930.0,475.7 925.9,476.5 924.0,477.0C922.1,477.5 917.9,479.2 916.0,479.7C914.1,480.1 909.7,481.0 908.0,481.0C906.3,481.0 902.3,480.4 901.3,479.7C900.4,478.9 900.3,475.6 900.0,474.3C899.7,473.1 899.3,470.1 898.7,469.0C898.0,467.9 895.9,465.9 894.7,465.0C893.4,464.1 889.7,461.6 888.0,461.0C886.3,460.4 881.7,459.6 880.0,459.7C878.3,459.7 874.3,461.8 873.3,461.7C872.4,461.5 871.5,459.3 872.0,458.3Z" fill="#00cc00"/>
<path d="M886.7,487.7C886.7,486.3 889.1,483.7 890.7,482.3C892.2,481.0 894.7,479.8 896.0,479.7C897.3,479.6 898.7,480.6 898.7,481.7C898.7,482.8 897.3,484.9 896.0,486.3C894.7,487.8 892.2,490.1 890.7,490.3C889.1,490.6 886.7,489.0 886.7,487.7Z" fill="#00cc00"/>
<path d="M819.6,468.0C820.1,466.8 823.3,466.0 825.0,466.0C826.7,466.0 829.7,466.7 830.0,468.0C830.3,469.3 828.3,473.2 827.0,474.0C825.7,474.8 823.2,474.0 822.0,473.0C820.8,472.0 819.1,469.2 819.6,468.0Z" fill="#0000ff"/>
<path d="M674.7,375.3C674.2,374.3 677.6,371.4 680.0,369.3C682.4,367.2 686.9,365.3 689.3,362.7C691.8,360.0 693.7,356.4 694.7,353.3C695.7,350.2 694.2,346.1 695.3,344.0C696.4,341.9 699.7,340.9 701.3,340.7C703.0,340.4 705.0,341.0 705.3,342.7C705.7,344.3 703.4,348.2 703.3,350.7C703.2,353.1 703.4,355.4 704.7,357.3C705.9,359.2 710.6,360.2 710.7,362.0C710.8,363.8 708.0,366.2 705.3,368.0C702.7,369.8 698.4,371.4 694.7,372.7C690.9,373.9 686.0,374.9 682.7,375.3C679.3,375.8 675.1,376.3 674.7,375.3Z" fill="#009900"/>
<path d="M537.0,419.6C537.5,418.6 540.2,417.0 542.0,416.4C543.8,415.8 546.8,415.6 548.0,416.0C549.2,416.4 549.7,418.0 549.0,419.0C548.3,420.0 545.7,421.4 544.0,422.0C542.3,422.6 540.2,422.8 539.0,422.4C537.8,422.0 536.5,420.6 537.0,419.6Z" fill="#009900"/>
<path d="M916.0,428.0C917.0,427.3 920.8,425.7 922.0,426.0C923.2,426.3 924.0,429.3 923.0,430.0C922.0,430.7 917.2,430.3 916.0,430.0C914.8,429.7 915.0,428.7 916.0,428.0Z" fill="#009900"/>
<path d="M639.0,475.0C639.7,473.8 642.7,472.0 644.0,472.0C645.3,472.0 646.0,473.3 647.0,475.0C648.0,476.7 648.5,480.0 650.0,482.0C651.5,484.0 654.3,485.0 656.0,487.0C657.7,489.0 657.3,492.0 660.0,494.0C662.7,496.0 668.3,498.3 672.0,499.0C675.7,499.7 679.7,497.2 682.0,498.0C684.3,498.8 686.3,502.8 686.0,504.0C685.7,505.2 682.7,505.0 680.0,505.0C677.3,505.0 672.7,504.7 670.0,504.0C667.3,503.3 665.7,502.5 664.0,501.0C662.3,499.5 661.7,497.0 660.0,495.0C658.3,493.0 656.3,491.0 654.0,489.0C651.7,487.0 648.3,484.7 646.0,483.0C643.7,481.3 641.2,480.3 640.0,479.0C638.8,477.7 638.3,476.2 639.0,475.0Z" fill="#009900"/>
<ellipse cx="704.4" cy="503.0" rx="3.6" ry="5.0" transform="rotate(0 704.4 503.0)" fill="#009900"/>
<ellipse cx="750.0" cy="469.0" rx="7.0" ry="3.4" transform="rotate(-30 750.0 469.0)" fill="#009900"/>
<path d="M788.0,485.0C788.3,483.5 791.3,480.0 794.0,478.0C796.7,476.0 801.0,474.7 804.0,473.0C807.0,471.3 810.3,467.7 812.0,468.0C813.7,468.3 814.5,472.7 814.0,475.0C813.5,477.3 811.3,480.3 809.0,482.0C806.7,483.7 802.8,484.2 800.0,485.0C797.2,485.8 794.0,487.0 792.0,487.0C790.0,487.0 787.7,486.5 788.0,485.0Z" fill="#009900"/>
<ellipse cx="704.0" cy="503.4" rx="3.0" ry="4.4" transform="rotate(0 704.0 503.4)" fill="#009900"/>
<ellipse cx="758.0" cy="541.0" rx="4.4" ry="4.0" transform="rotate(0 758.0 541.0)" fill="#009900"/>
<ellipse cx="775.0" cy="563.0" rx="5.0" ry="4.4" transform="rotate(0 775.0 563.0)" fill="#009900"/>
<ellipse cx="622.0" cy="627.0" rx="2.8" ry="3.2" transform="rotate(0 622.0 627.0)" fill="#009900"/>
<path d="M841.0,620.0C840.8,619.0 845.7,615.8 847.0,615.0C848.3,614.2 853.0,612.2 854.0,612.0C855.0,611.8 856.8,612.2 857.0,613.0C857.2,613.8 856.7,618.7 856.4,620.0C856.1,621.3 854.7,625.5 854.0,626.0C853.3,626.5 850.3,625.6 849.0,625.0C847.7,624.4 841.2,621.0 841.0,620.0Z" fill="#009900"/>
<ellipse cx="816.6" cy="769.0" rx="5.6" ry="5.0" transform="rotate(0 816.6 769.0)" fill="#009900"/>
<path d="M804.0,800.0C804.5,798.7 809.9,800.6 812.0,801.0C814.1,801.4 819.7,803.7 822.0,803.0C824.3,802.3 829.9,796.9 832.0,795.0C834.1,793.1 838.1,788.6 840.0,787.0C841.9,785.4 846.5,781.9 848.0,781.0C849.5,780.1 852.9,778.0 853.0,779.0C853.1,780.0 850.0,787.5 849.0,790.0C848.0,792.5 844.9,797.8 844.0,800.0C843.1,802.2 841.1,806.7 841.0,809.0C840.9,811.3 843.4,818.2 843.0,820.0C842.6,821.8 839.8,824.0 838.0,824.0C836.2,824.0 830.1,820.8 828.0,820.0C825.9,819.2 821.9,817.2 820.0,817.0C818.1,816.8 813.4,818.6 812.0,818.0C810.6,817.4 808.9,814.1 808.0,812.0C807.1,809.9 803.5,801.3 804.0,800.0Z" fill="#009900"/>
<ellipse cx="818.0" cy="768.0" rx="6.0" ry="3.6" transform="rotate(0 818.0 768.0)" fill="#009900"/>
<ellipse cx="918.7" cy="427.7" rx="4.7" ry="3.3" transform="rotate(-35 918.7 427.7)" fill="#009900"/>
<path d="M876.0,457.0C876.2,456.1 879.3,454.2 881.3,453.7C883.3,453.1 886.4,453.2 888.0,453.7C889.6,454.1 890.9,455.4 890.7,456.3C890.4,457.2 888.4,458.6 886.7,459.0C884.9,459.4 881.8,459.3 880.0,459.0C878.2,458.7 875.8,457.9 876.0,457.0Z" fill="#009900"/>
<path d="M897.3,471.7C897.8,470.1 900.4,469.0 902.7,467.7C904.9,466.3 908.7,463.7 910.7,463.7C912.7,463.7 914.2,465.9 914.7,467.7C915.1,469.4 914.7,472.6 913.3,474.3C912.0,476.1 908.9,477.9 906.7,478.3C904.4,478.8 901.6,478.1 900.0,477.0C898.4,475.9 896.9,473.2 897.3,471.7Z" fill="#009900"/>
<path d="M913.3,455.7C914.4,453.2 918.4,453.7 921.3,453.0C924.2,452.3 927.3,452.1 930.7,451.7C934.0,451.2 939.6,446.3 941.3,450.3C943.1,454.3 942.7,471.6 941.3,475.7C940.0,479.8 935.8,475.0 933.3,475.0C930.9,475.0 929.1,475.8 926.7,475.7C924.2,475.6 920.7,475.7 918.7,474.3C916.7,473.0 915.6,470.8 914.7,467.7C913.8,464.6 912.2,458.1 913.3,455.7Z" fill="#009900"/>
<path d="M807.0,791.0C807.2,789.2 818.2,779.2 820.0,779.0C821.8,778.8 829.2,786.2 829.0,788.0C828.8,789.8 819.8,799.8 818.0,800.0C816.2,800.2 806.8,792.8 807.0,791.0Z" fill="#0000ff"/>
<path d="M810.4,791.0C810.6,789.8 818.7,782.6 820.0,782.4C821.3,782.1 825.8,786.8 825.6,788.0C825.4,789.2 818.9,796.1 817.6,796.4C816.3,796.6 810.2,792.2 810.4,791.0Z" fill="#3399ff"/>
<ellipse cx="816.0" cy="793.0" rx="2.4" ry="2.4" transform="rotate(0 816.0 793.0)" fill="#66ffff"/>
<path d="M680.0,374.0C678.8,373.8 679.1,370.5 680.0,369.3C680.9,368.2 687.7,363.9 689.3,362.7C690.9,361.5 694.9,357.3 696.0,357.3C697.1,357.3 698.7,361.9 700.0,362.7C701.3,363.4 708.4,364.1 708.7,364.7C708.9,365.2 704.3,367.3 702.7,368.0C701.0,368.7 694.3,370.7 692.0,371.3C689.7,371.9 681.2,374.2 680.0,374.0Z" fill="#ffff00"/>
<path d="M544.0,418.4L547.6,417.2" fill="none" stroke="#ffff00" stroke-width="2.8" stroke-linecap="round" stroke-linejoin="round"/>
<path d="M645.0,475.0C645.2,473.9 647.9,468.9 649.0,468.0C650.1,467.1 654.6,466.1 656.0,466.0C657.4,465.9 662.0,466.3 663.0,467.0C664.0,467.7 665.4,471.8 665.6,473.0C665.8,474.2 664.0,479.0 665.0,479.4C666.0,479.8 674.3,476.7 676.0,476.6C677.7,476.5 681.3,477.2 682.0,478.0C682.7,478.8 683.3,483.5 683.0,485.0C682.7,486.5 680.1,491.9 679.0,493.0C677.9,494.1 673.5,495.8 672.0,496.0C670.5,496.2 665.2,495.7 664.0,495.0C662.8,494.3 660.6,490.2 660.0,489.0C659.4,487.8 658.8,483.7 658.0,483.0C657.2,482.3 653.1,482.4 652.0,482.0C650.9,481.6 647.7,479.7 647.0,479.0C646.3,478.3 644.8,476.1 645.0,475.0Z" fill="#ffff00"/>
<ellipse cx="799.0" cy="477.4" rx="10.4" ry="7.0" transform="rotate(-25 799.0 477.4)" fill="#ffff00"/>
<ellipse cx="730.4" cy="502.0" rx="7.6" ry="7.6" transform="rotate(0 730.4 502.0)" fill="#ffff00"/>
<ellipse cx="762.4" cy="540.0" rx="2.6" ry="2.4" transform="rotate(0 762.4 540.0)" fill="#ffff00"/>
<path d="M621.0,625.0C621.2,624.9 624.0,626.7 624.0,627.0C624.0,627.3 621.4,629.1 621.2,629.0C621.0,628.9 620.8,625.1 621.0,625.0Z" fill="#ffff00"/>
<ellipse cx="852.4" cy="618.0" rx="3.4" ry="5.6" transform="rotate(15 852.4 618.0)" fill="#ffff00"/>
<ellipse cx="816.0" cy="767.6" rx="3.2" ry="1.6" transform="rotate(0 816.0 767.6)" fill="#ffff00"/>
<path d="M810.0,804.0C810.8,803.0 813.2,803.2 815.0,804.0C816.8,804.8 820.2,807.3 821.0,809.0C821.8,810.7 821.2,813.2 820.0,814.0C818.8,814.8 815.6,814.7 814.0,814.0C812.4,813.3 811.1,811.7 810.4,810.0C809.7,808.3 809.2,805.0 810.0,804.0Z" fill="#ffff00"/>
<path d="M825.0,804.0C825.3,801.7 827.8,798.7 830.0,797.0C832.2,795.3 835.9,794.2 838.0,794.0C840.1,793.8 842.1,794.3 842.4,796.0C842.7,797.7 841.4,801.7 840.0,804.0C838.6,806.3 836.0,808.8 834.0,810.0C832.0,811.2 829.5,812.0 828.0,811.0C826.5,810.0 824.7,806.3 825.0,804.0Z" fill="#ffff00"/>
<ellipse cx="815.6" cy="767.4" rx="3.0" ry="1.6" transform="rotate(0 815.6 767.4)" fill="#ffff00"/>
<path d="M882.4,456.3L886.0,455.7" fill="none" stroke="#ffff00" stroke-width="1.1" stroke-linecap="round" stroke-linejoin="round"/>
<path d="M915.3,469.0C915.3,467.4 917.0,465.0 918.7,463.7C920.3,462.3 922.9,462.1 925.3,461.0C927.8,459.9 930.7,458.1 933.3,457.0C936.0,455.9 940.0,451.4 941.3,454.3C942.7,457.2 942.7,471.1 941.3,474.3C940.0,477.6 936.0,473.8 933.3,473.7C930.7,473.6 927.8,473.8 925.3,473.7C922.9,473.6 920.3,473.8 918.7,473.0C917.0,472.2 915.3,470.6 915.3,469.0Z" fill="#ffff00"/>
<ellipse cx="656.0" cy="474.0" rx="6.4" ry="5.6" transform="rotate(0 656.0 474.0)" fill="#ffcc00"/>
<path d="M663.0,489.0C663.0,487.5 665.8,485.5 668.0,484.0C670.2,482.5 674.0,480.3 676.0,480.0C678.0,479.7 679.3,480.7 680.0,482.0C680.7,483.3 680.8,486.3 680.0,488.0C679.2,489.7 677.0,491.2 675.0,492.0C673.0,492.8 670.0,493.5 668.0,493.0C666.0,492.5 663.0,490.5 663.0,489.0Z" fill="#ffcc00"/>
<ellipse cx="797.0" cy="478.0" rx="3.2" ry="1.4" transform="rotate(0 797.0 478.0)" fill="#ffcc00"/>
<ellipse cx="730.4" cy="502.0" rx="5.6" ry="5.6" transform="rotate(0 730.4 502.0)" fill="#ffcc00"/>
<ellipse cx="833.0" cy="802.4" rx="3.6" ry="2.8" transform="rotate(-40 833.0 802.4)" fill="#ffcc00"/>
<path d="M921.3,467.7C921.3,466.4 924.7,465.0 926.7,463.7C928.7,462.3 930.9,460.7 933.3,459.7C935.8,458.7 940.0,455.7 941.3,457.7C942.7,459.7 942.7,469.3 941.3,471.7C940.0,474.0 935.8,471.8 933.3,471.7C930.9,471.6 928.7,471.7 926.7,471.0C924.7,470.3 921.3,468.9 921.3,467.7Z" fill="#ffcc00"/>
<ellipse cx="656.6" cy="473.6" rx="4.0" ry="3.6" transform="rotate(0 656.6 473.6)" fill="#ff6600"/>
<ellipse cx="730.6" cy="501.6" rx="3.6" ry="3.6" transform="rotate(0 730.6 501.6)" fill="#ff6600"/>
<path d="M928.7,465.7C928.7,464.3 931.2,462.7 933.3,461.7C935.4,460.7 940.0,458.4 941.3,459.7C942.7,460.9 942.7,467.3 941.3,469.0C940.0,470.7 935.4,470.2 933.3,469.7C931.2,469.1 928.7,467.0 928.7,465.7Z" fill="#ff6600"/>
<ellipse cx="657.0" cy="473.6" rx="2.0" ry="1.6" transform="rotate(0 657.0 473.6)" fill="#ff0000"/>
</g>
<g stroke="#9a9a9a" stroke-width="1.2" stroke-dasharray="2 7.82" fill="none" clip-path="url(#fr)"><path d="M271.8,798.0 H937.7"/><path d="M271.8,730.6 H937.7"/><path d="M271.8,663.2 H937.7"/><path d="M271.8,595.9 H937.7"/><path d="M271.8,528.5 H937.7"/><path d="M271.8,461.1 H937.7"/><path d="M271.8,393.7 H937.7"/><path d="M271.8,326.3 H937.7"/><path d="M271.8,259.0 H937.7"/><path d="M271.8,191.6 H937.7"/><path d="M271.8,124.2 H937.7"/><path d="M301.1,811.4 V79.4" stroke-dasharray="2 7.53"/><path d="M358.9,811.4 V79.4" stroke-dasharray="2 7.53"/><path d="M416.7,811.4 V79.4" stroke-dasharray="2 7.53"/><path d="M474.5,811.4 V79.4" stroke-dasharray="2 7.53"/><path d="M532.4,811.4 V79.4" stroke-dasharray="2 7.53"/><path d="M590.2,811.4 V79.4" stroke-dasharray="2 7.53"/><path d="M648.0,811.4 V79.4" stroke-dasharray="2 7.53"/><path d="M705.8,811.4 V79.4" stroke-dasharray="2 7.53"/><path d="M763.7,811.4 V79.4" stroke-dasharray="2 7.53"/><path d="M821.5,811.4 V79.4" stroke-dasharray="2 7.53"/><path d="M879.3,811.4 V79.4" stroke-dasharray="2 7.53"/></g>
<g fill="none" stroke="#000" stroke-width="1.1" stroke-linejoin="round" clip-path="url(#fr)">
<path d="M489.0,379.0L499.0,377.4L506.0,384.0L508.0,394.0L517.0,404.0L524.4,416.0L525.0,430.0"/>
<path d="M747.0,250.0L751.6,261.0L756.6,269.0L759.6,279.0L768.0,293.0L785.0,319.0L793.0,326.0L804.0,344.0L818.0,365.0L825.0,371.0L835.0,369.6L838.0,378.0L848.0,394.0L862.0,417.0L870.0,427.0L876.0,430.0"/>
<path d="M409.0,430.0L429.0,461.0L437.4,465.0L444.0,445.0L453.0,441.0L455.0,429.4L464.4,431.4L469.0,425.0"/>
<path d="M525.0,430.0L524.4,432.0L521.0,438.0L517.6,451.0L529.0,464.0L543.6,479.0L554.0,477.0L574.0,483.4L592.0,486.6L611.0,495.0L621.0,511.0L630.0,513.0L644.0,519.0L658.0,525.0L668.0,534.0L678.0,545.0L688.0,550.0L698.0,561.0L710.0,578.0L720.0,588.0"/>
<path d="M869.0,425.0L876.0,430.0L879.0,437.0L886.0,449.0L900.0,453.0L912.0,457.0L918.0,462.0L926.0,468.0L940.0,479.0"/>
<path d="M919.0,463.0L922.0,470.0L917.0,479.0L909.0,484.0L898.0,475.0L892.0,464.0L880.0,461.0L870.0,464.0L866.0,470.0L870.0,479.0L873.0,484.0L864.0,486.0L857.0,491.0L853.6,498.0L853.6,581.0L866.0,585.0L876.0,591.0L882.0,597.0L890.0,600.0L893.0,605.0"/>
<path d="M720.0,588.0L724.6,602.6"/>
<path d="M720.0,641.0L717.0,646.0L720.0,647.0"/>
<path d="M717.0,660.0L700.0,682.0L710.0,698.0L720.0,707.0"/>
<path d="M724.6,602.6L722.0,612.0L724.0,624.0L728.4,632.0L717.0,646.4L726.6,644.4L719.0,649.0L716.6,660.0"/>
<path d="M720.0,707.0L728.0,718.0L737.0,722.4L748.0,720.6L783.0,736.6L788.6,730.0L789.0,717.0L786.0,706.0L781.0,697.0L763.6,688.0L757.0,676.0L751.6,660.6L773.0,657.0L783.0,672.0L796.0,677.0L811.0,682.4L817.0,688.0L807.0,689.0L810.0,694.0L821.0,698.0L813.6,702.0L818.0,712.0L821.0,722.0L815.0,736.0L815.0,742.4"/>
<path d="M888.0,600.0L895.0,608.0L892.0,618.0L880.0,626.0L868.0,632.0L864.0,642.0L858.0,648.0L862.0,660.0L870.0,674.0L873.0,690.0L875.0,708.0L870.0,718.0L860.0,726.0L851.0,729.0L844.0,740.0L832.0,746.4"/>
<path d="M815.0,742.4L828.0,753.0L840.0,762.0L848.0,772.0L855.0,782.0L859.0,790.0L861.0,798.0L861.0,814.0L867.6,814.4L869.6,802.0L866.0,792.0L866.4,766.0L872.0,758.0L880.0,754.0L900.0,748.4L916.0,751.0L940.0,758.0"/>
<path d="M832.0,746.4L840.0,756.0L854.0,764.4L855.6,780.0L860.0,792.0"/>
<path d="M278.0,79.4L288.0,95.0L295.6,102.0L301.0,112.0L304.0,122.0L322.4,129.4L326.0,139.4L318.0,135.6L310.6,141.6L318.0,148.6L322.6,155.6L318.0,163.4L307.4,161.4L298.6,165.6L291.4,159.6L278.4,171.4L295.0,179.4L308.6,191.6L318.6,189.4L325.6,195.6L327.4,207.0L327.4,222.0L324.4,233.0L332.6,229.4L329.4,239.4L321.0,243.0L313.6,249.4L303.6,251.6L302.0,255.0"/>
<path d="M322.4,129.4L324.0,122.0L330.0,112.0L334.6,101.6L344.6,99.6L358.0,111.0L368.0,116.0L388.0,120.0L473.0,159.4L481.0,156.0L495.0,144.0L500.0,142.0"/>
<path d="M326.0,79.4L333.0,86.0L349.6,93.6L355.0,101.6L372.0,109.6L392.0,113.4L401.0,117.4L408.0,123.4L418.0,125.4L430.0,125.4L440.0,127.6L457.6,135.4L469.0,135.4L478.0,139.6L488.0,138.0L495.0,132.6L498.0,123.0L497.4,111.0L499.0,101.0L496.0,89.0L491.0,79.4"/>
<path d="M447.6,113.4L450.0,101.4L452.0,102.0L456.0,110.0L447.6,113.4"/>
<path d="M480.0,156.6L496.0,144.0L504.0,140.0L511.4,133.6L519.4,129.6L526.4,135.6L538.4,135.6L545.6,141.6L553.6,145.6L561.0,153.6L569.4,157.6L579.4,147.6L583.0,157.0L588.0,165.4L605.4,173.4L608.6,183.0L610.4,195.4L622.6,195.4L631.4,199.6L639.4,195.6L648.0,199.6L662.0,211.6L672.0,209.6L681.0,205.6L689.6,199.6L700.0,197.2L708.0,193.6L715.0,188.0L712.0,163.0"/>
<path d="M673.6,79.4L675.0,91.0L677.6,108.0L684.0,125.0L690.0,139.0L700.0,154.0L703.0,163.4L713.0,161.4L717.0,164.0L720.0,169.0"/>
<path d="M713.0,161.4L717.0,164.0L721.0,170.0L724.0,177.0L728.6,191.0L724.0,184.0L723.6,198.0L720.4,207.0L728.6,203.6L734.0,212.0L736.0,224.0L742.0,243.0L747.0,251.0L748.6,255.0"/>
<path d="M313.0,250.0L303.6,251.6L300.6,261.0L305.4,271.0L301.0,279.0L293.0,286.0L288.0,293.0L293.4,301.6L291.4,313.0L293.4,325.6L298.6,333.6L305.4,353.0L330.6,393.0L348.0,401.0L360.0,401.0L380.0,405.0L389.0,409.0L400.0,418.0L409.0,430.0"/>
<path d="M399.4,309.4L407.0,314.4L416.6,331.0L425.6,335.4L435.6,333.4L441.0,341.4L451.0,343.4L457.0,351.4L465.0,355.4L470.0,363.0L480.0,370.0L489.0,374.0L498.0,375.6L489.0,379.0"/>
<path d="M399.4,309.4L407.6,317.0L411.4,351.6L421.0,357.4L430.6,373.0L439.0,377.0L449.0,379.4L456.0,385.4L468.6,385.4L468.6,399.0L472.0,411.4L481.6,409.4L475.0,415.0L468.0,426.0L465.0,430.0"/>
<path d="M420.0,348.0L423.0,343.6L431.6,345.6L437.0,353.0L427.0,355.4L420.0,348.0"/>
</g>
<rect x="262.8" y="79.4" width="674.9" height="741.0" fill="none" stroke="#000" stroke-width="1.5"/>
<g stroke="#000" stroke-width="1.4"><path d="M257.5,798.0 H263"/><path d="M257.5,730.6 H263"/><path d="M257.5,663.2 H263"/><path d="M257.5,595.9 H263"/><path d="M257.5,528.5 H263"/><path d="M257.5,461.1 H263"/><path d="M257.5,393.7 H263"/><path d="M257.5,326.3 H263"/><path d="M257.5,259.0 H263"/><path d="M257.5,191.6 H263"/><path d="M257.5,124.2 H263"/><path d="M301.1,820.5 V825.5"/><path d="M358.9,820.5 V825.5"/><path d="M416.7,820.5 V825.5"/><path d="M474.5,820.5 V825.5"/><path d="M532.4,820.5 V825.5"/><path d="M590.2,820.5 V825.5"/><path d="M648.0,820.5 V825.5"/><path d="M705.8,820.5 V825.5"/><path d="M763.7,820.5 V825.5"/><path d="M821.5,820.5 V825.5"/><path d="M879.3,820.5 V825.5"/></g>
<text class="ax" x="252.6" y="804.2" text-anchor="end" textLength="33.3" lengthAdjust="spacingAndGlyphs">8.1N</text>
<text class="ax" x="252.6" y="736.8" text-anchor="end" textLength="33.3" lengthAdjust="spacingAndGlyphs">8.4N</text>
<text class="ax" x="252.6" y="669.4" text-anchor="end" textLength="33.3" lengthAdjust="spacingAndGlyphs">8.7N</text>
<text class="ax" x="252.6" y="602.1" text-anchor="end" textLength="20.1" lengthAdjust="spacingAndGlyphs">9N</text>
<text class="ax" x="252.6" y="534.7" text-anchor="end" textLength="33.3" lengthAdjust="spacingAndGlyphs">9.3N</text>
<text class="ax" x="252.6" y="467.3" text-anchor="end" textLength="33.3" lengthAdjust="spacingAndGlyphs">9.6N</text>
<text class="ax" x="252.6" y="399.9" text-anchor="end" textLength="33.3" lengthAdjust="spacingAndGlyphs">9.9N</text>
<text class="ax" x="252.6" y="332.5" text-anchor="end" textLength="42.0" lengthAdjust="spacingAndGlyphs">10.2N</text>
<text class="ax" x="252.6" y="265.2" text-anchor="end" textLength="42.0" lengthAdjust="spacingAndGlyphs">10.5N</text>
<text class="ax" x="252.6" y="197.8" text-anchor="end" textLength="42.0" lengthAdjust="spacingAndGlyphs">10.8N</text>
<text class="ax" x="252.6" y="130.4" text-anchor="end" textLength="42.0" lengthAdjust="spacingAndGlyphs">11.1N</text>
<text class="ax" x="301.1" y="841" text-anchor="middle" textLength="44.5" lengthAdjust="spacingAndGlyphs">85.8W</text>
<text class="ax" x="358.9" y="841" text-anchor="middle" textLength="44.5" lengthAdjust="spacingAndGlyphs">85.5W</text>
<text class="ax" x="416.7" y="841" text-anchor="middle" textLength="44.5" lengthAdjust="spacingAndGlyphs">85.2W</text>
<text class="ax" x="474.5" y="841" text-anchor="middle" textLength="44.5" lengthAdjust="spacingAndGlyphs">84.9W</text>
<text class="ax" x="532.4" y="841" text-anchor="middle" textLength="44.5" lengthAdjust="spacingAndGlyphs">84.6W</text>
<text class="ax" x="590.2" y="841" text-anchor="middle" textLength="44.5" lengthAdjust="spacingAndGlyphs">84.3W</text>
<text class="ax" x="648.0" y="841" text-anchor="middle" textLength="29.8" lengthAdjust="spacingAndGlyphs">84W</text>
<text class="ax" x="705.8" y="841" text-anchor="middle" textLength="44.5" lengthAdjust="spacingAndGlyphs">83.7W</text>
<text class="ax" x="763.7" y="841" text-anchor="middle" textLength="44.5" lengthAdjust="spacingAndGlyphs">83.4W</text>
<text class="ax" x="821.5" y="841" text-anchor="middle" textLength="44.5" lengthAdjust="spacingAndGlyphs">83.1W</text>
<text class="ax" x="879.3" y="841" text-anchor="middle" textLength="44.5" lengthAdjust="spacingAndGlyphs">82.8W</text>
<text><tspan class="t0 th1" y="30.8" x="131.26" textLength="50.15" lengthAdjust="spacingAndGlyphs">IMN</tspan><tspan class="t0 th1 sl" y="38.2" x="181.33" textLength="24.18" lengthAdjust="spacingAndGlyphs">/</tspan><tspan class="t0 th1" y="30.8" x="203.53" textLength="149.63" lengthAdjust="spacingAndGlyphs">SARAPIQUI</tspan><tspan class="t0 th1" y="30.8" x="353.50" textLength="19.50" lengthAdjust="spacingAndGlyphs">_</tspan><tspan class="t0 th1" y="30.8" x="373.86" textLength="19.07" lengthAdjust="spacingAndGlyphs">5</tspan></text>
<text class="t0 th1" y="30.8" x="409.00" textLength="191.54" lengthAdjust="spacingAndGlyphs">Precipitacion</text>
<text class="t0 th1" y="30.8" x="617.44" textLength="160.89" lengthAdjust="spacingAndGlyphs">Acumulada</text>
<text class="t0 th1" y="30.8" x="795.83" textLength="35.53" lengthAdjust="spacingAndGlyphs">en</text>
<text class="t0 th1" y="30.8" x="848.63" textLength="19.75" lengthAdjust="spacingAndGlyphs">6</text>
<text class="t0 th1" y="30.8" x="885.00" textLength="82.90" lengthAdjust="spacingAndGlyphs">horas</text>
<text class="t0 th1" y="30.8" x="986.21" textLength="82.63" lengthAdjust="spacingAndGlyphs">(mm)</text>
<text><tspan class="t1 th1" y="61.6" x="461.32" textLength="75.52" lengthAdjust="spacingAndGlyphs">2025</tspan><tspan class="t1 th1" y="58.7" x="536.72" textLength="25.62" lengthAdjust="spacingAndGlyphs">-</tspan><tspan class="t1 th1" y="61.6" x="562.97" textLength="39.80" lengthAdjust="spacingAndGlyphs">07</tspan><tspan class="t1 th1" y="58.7" x="600.72" textLength="25.62" lengthAdjust="spacingAndGlyphs">-</tspan><tspan class="t1 th1" y="61.6" x="626.07" textLength="33.17" lengthAdjust="spacingAndGlyphs">21</tspan></text>
<text class="t1 th1" y="61.6" x="681.00" textLength="58.00" lengthAdjust="spacingAndGlyphs">00Z</text>
<text class="ft th3" y="876.6" x="326.00" textLength="105.39" lengthAdjust="spacingAndGlyphs">Instituto</text>
<text class="ft th3" y="876.6" x="445.00" textLength="174.66" lengthAdjust="spacingAndGlyphs">Meteorologico</text>
<text class="ft th3" y="876.6" x="635.00" textLength="107.80" lengthAdjust="spacingAndGlyphs">Nacional</text>
<text class="ft th3" y="876.6" x="757.88" textLength="71.41" lengthAdjust="spacingAndGlyphs">Costa</text>
<text class="ft th3" y="876.6" x="843.98" textLength="54.15" lengthAdjust="spacingAndGlyphs">Rica</text>
<g stroke="#000" stroke-width="1.3" stroke-linejoin="miter"><path d="M1058.0,132.1 L1069.0,91.2 L1080.0,132.1 Z" fill="#aaaaaa"/><rect x="1058.0" y="132.10" width="22.0" height="42.35" fill="#f5f5f5"/><rect x="1058.0" y="174.45" width="22.0" height="42.35" fill="#9933cc"/><rect x="1058.0" y="216.81" width="22.0" height="42.35" fill="#ff00ff"/><rect x="1058.0" y="259.16" width="22.0" height="42.35" fill="#990000"/><rect x="1058.0" y="301.51" width="22.0" height="42.35" fill="#cc3300"/><rect x="1058.0" y="343.87" width="22.0" height="42.35" fill="#ff0000"/><rect x="1058.0" y="386.22" width="22.0" height="42.35" fill="#ff6600"/><rect x="1058.0" y="428.57" width="22.0" height="42.35" fill="#ffcc00"/><rect x="1058.0" y="470.93" width="22.0" height="42.35" fill="#ffff00"/><rect x="1058.0" y="513.28" width="22.0" height="42.35" fill="#009900"/><rect x="1058.0" y="555.63" width="22.0" height="42.35" fill="#00cc00"/><rect x="1058.0" y="597.99" width="22.0" height="42.35" fill="#00ff00"/><rect x="1058.0" y="640.34" width="22.0" height="42.35" fill="#0000ff"/><rect x="1058.0" y="682.69" width="22.0" height="42.35" fill="#3399ff"/><rect x="1058.0" y="725.05" width="22.0" height="42.35" fill="#66ffff"/><path d="M1058.0,767.4 L1069.0,809.3 L1080.0,767.4 Z" fill="#fff"/></g>
<text class="cb th2" x="1086" y="140.0">200</text>
<text class="cb th2" x="1086" y="182.4">150</text>
<text class="cb th2" x="1086" y="224.7">120</text>
<text class="cb th2" x="1086" y="267.1">100</text>
<text class="cb th2" x="1086" y="309.4">90</text>
<text class="cb th2" x="1086" y="351.8">75</text>
<text class="cb th2" x="1086" y="394.1">60</text>
<text class="cb th2" x="1086" y="436.5">50</text>
<text class="cb th2" x="1086" y="478.8">40</text>
<text class="cb th2" x="1086" y="521.2">30</text>
<text class="cb th2" x="1086" y="563.5">25</text>
<text class="cb th2" x="1086" y="605.9">20</text>
<text class="cb th2" x="1086" y="648.2">15</text>
<text class="cb th2" x="1086" y="690.6">12.5</text>
<text class="cb th2" x="1086" y="732.9">7</text>
<text class="cb th2" x="1086" y="775.3">3.5</text>
</svg></body></html>
